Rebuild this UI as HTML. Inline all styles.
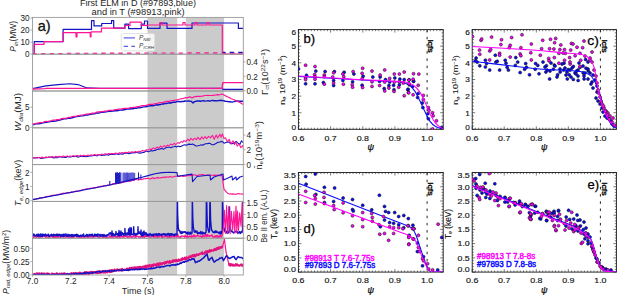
<!DOCTYPE html>
<html><head><meta charset="utf-8"><style>
html,body{margin:0;padding:0;background:#fff;width:617px;height:295px;overflow:hidden}
svg text{font-family:"Liberation Sans", sans-serif}
</style></head><body>
<svg width="617" height="295" viewBox="0 0 617 295" style="display:block;font-family:'Liberation Sans', sans-serif">
<rect width="617" height="295" fill="#fff"/>
<rect x="147.5" y="17.4" width="29.7" height="257.6" fill="#cbcbcb"/>
<rect x="185.8" y="17.4" width="38.3" height="257.6" fill="#cbcbcb"/>
<defs><clipPath id="cl"><rect x="32.5" y="17.4" width="210.8" height="257.6"/></clipPath></defs>
<g clip-path="url(#cl)">
<path d="M32.5,53.9 L60.0,53.6 L120.0,53.2 L222.0,53.0 L243.5,53.0" fill="none" stroke="#ff1493" stroke-width="1.4" stroke-linejoin="round" stroke-linecap="butt" stroke-dasharray="4.3,4.3"/>
<path d="M222.0,52.4 L243.5,52.4" fill="none" stroke="#1414c4" stroke-width="1.2" stroke-linejoin="round" stroke-linecap="butt" stroke-dasharray="4.3,4.3" stroke-dashoffset="1"/>
<path d="M32.5,54.1 L34.2,54.1 L34.2,41.6 L63.1,41.6 L63.1,29.4 L91.5,29.4 L91.5,20.7 L94.0,20.7 L94.0,25.9 L101.7,25.9 L101.7,23.5 L111.5,23.5 L111.5,20.7 L113.7,20.7 L113.7,28.2 L124.9,28.2 L124.9,24.1 L128.6,24.1 L128.6,28.6 L141.3,28.6 L141.3,24.1 L144.5,24.1 L144.5,21.0 L147.5,21.0 L147.5,28.4 L160.0,28.4 L160.0,23.2 L167.0,23.2 L167.0,28.4 L192.0,28.4 L192.0,23.0 L238.4,23.0 L238.4,28.4 L243.5,28.4 L243.5,28.4" fill="none" stroke="#1414c4" stroke-width="1.2" stroke-linejoin="round" stroke-linecap="butt" />
<path d="M32.5,54.1 L34.2,54.1 L34.2,44.3 L44.0,44.3 L44.0,41.6 L63.1,41.6 L63.1,32.7 L76.0,32.7 L76.0,36.8 L77.0,36.8 L77.0,32.7 L90.2,32.7 L90.2,36.8 L91.0,36.8 L91.0,31.9 L101.5,31.9 L101.5,28.2 L124.9,28.2 L124.9,25.5 L130.0,25.5 L130.0,22.2 L141.3,22.2 L141.3,25.3 L147.5,25.3 L147.5,25.0 L160.0,25.0 L160.0,22.5 L162.0,22.5 L162.0,25.0 L183.0,25.0 L183.0,22.5 L185.0,22.5 L185.0,25.0 L195.0,25.0 L195.0,22.5 L197.0,22.5 L197.0,25.0 L207.0,25.0 L207.0,22.5 L209.0,22.5 L209.0,25.0 L222.3,25.0 L222.3,54.2 L243.5,54.2 L243.5,54.2" fill="none" stroke="#ff1493" stroke-width="1.2" stroke-linejoin="round" stroke-linecap="butt" />
<path d="M32.5,88.6 L46.0,85.9 L58.0,84.6 L70.0,83.7 L78.0,84.6 L87.0,87.9 L100.0,88.3 L222.0,88.3 L223.0,89.4 L243.5,89.4" fill="none" stroke="#1414c4" stroke-width="1.1" stroke-linejoin="round" stroke-linecap="butt" />
<path d="M32.5,89.0 L45.0,88.6 L46.0,88.3 L222.0,88.3 L222.8,82.7 L243.5,82.7" fill="none" stroke="#ff1493" stroke-width="1.3" stroke-linejoin="round" stroke-linecap="butt" />
<path d="M32.5,124.9 L34.0,124.6 L35.6,123.8 L37.1,123.6 L38.6,123.8 L40.1,123.5 L41.7,123.2 L43.2,122.7 L44.7,122.6 L46.2,122.4 L47.8,122.1 L49.3,121.6 L50.8,121.5 L52.4,121.2 L53.9,121.2 L55.4,121.1 L56.9,120.8 L58.5,120.3 L60.0,120.0 L61.5,119.6 L63.1,119.1 L64.6,118.8 L66.2,118.8 L67.7,118.4 L69.2,118.2 L70.8,118.2 L72.3,117.7 L73.8,117.4 L75.4,116.9 L76.9,116.5 L78.5,116.4 L80.0,116.0 L81.5,115.9 L83.1,115.9 L84.6,115.4 L86.2,114.8 L87.7,115.0 L89.2,114.6 L90.8,114.3 L92.3,114.1 L93.8,113.7 L95.4,113.5 L96.9,112.9 L98.5,113.0 L100.0,112.7 L101.5,112.0 L103.0,112.2 L104.6,112.0 L106.1,111.7 L107.6,111.5 L109.1,111.3 L110.7,111.4 L112.2,111.0 L113.7,111.0 L115.2,110.5 L116.7,110.7 L118.3,110.5 L119.8,110.1 L121.3,109.9 L122.8,110.0 L124.3,109.7 L125.9,109.4 L127.4,109.0 L128.9,108.9 L130.4,109.0 L132.0,108.5 L133.5,108.7 L135.0,108.2 L136.5,108.3 L138.0,107.7 L139.5,107.9 L141.0,107.5 L142.5,107.1 L144.0,106.9 L145.5,106.8 L147.0,106.5 L148.5,106.1 L150.0,105.8 L151.5,105.8 L153.0,105.8 L154.5,105.4 L156.0,104.8 L157.5,105.0 L159.0,104.7 L160.5,104.6 L162.0,103.9 L163.5,104.0 L165.0,103.4 L166.5,103.5 L168.0,103.1 L169.5,102.8 L171.0,103.0 L172.5,102.3 L174.0,102.3 L175.5,102.2 L177.0,101.6 L178.6,101.5 L180.2,101.8 L181.9,101.5 L183.5,101.5 L185.1,101.0 L186.8,101.1 L188.4,100.9 L190.0,101.1 L191.5,101.5 L193.0,102.9 L194.5,101.6 L196.0,101.3 L197.5,100.9 L199.1,101.0 L200.6,101.3 L202.1,100.9 L203.6,100.8 L205.2,101.1 L206.7,100.9 L208.2,100.6 L209.8,101.2 L211.3,100.6 L212.8,100.5 L214.4,100.7 L215.9,100.8 L217.4,100.9 L218.9,100.4 L220.5,100.5 L222.0,100.3 L223.7,100.8 L225.3,101.2 L227.0,101.4 L228.7,101.7 L230.3,101.8 L232.0,102.1 L234.0,101.6 L236.0,101.0 L237.5,100.9 L239.0,101.3 L240.5,101.2 L242.0,101.2 L243.5,101.5" fill="none" stroke="#1414c4" stroke-width="1.4" stroke-linejoin="round" stroke-linecap="butt" />
<path d="M32.5,123.8 L34.0,123.9 L35.6,123.6 L37.1,123.1 L38.6,122.9 L40.1,122.6 L41.7,122.5 L43.2,122.3 L44.7,121.6 L46.2,121.3 L47.8,121.5 L49.3,121.0 L50.8,121.0 L52.4,120.2 L53.9,120.2 L55.4,120.1 L56.9,119.6 L58.5,119.7 L60.0,119.4 L61.5,118.6 L63.1,118.3 L64.6,118.4 L66.2,118.3 L67.7,117.7 L69.2,117.3 L70.8,117.1 L72.3,116.6 L73.8,116.4 L75.4,116.3 L76.9,116.0 L78.5,115.6 L80.0,115.3 L81.5,115.0 L83.1,114.8 L84.6,114.5 L86.2,114.0 L87.7,114.2 L89.2,113.8 L90.8,113.5 L92.3,113.0 L93.8,113.1 L95.4,112.8 L96.9,112.0 L98.5,111.9 L100.0,111.8 L101.5,111.6 L103.0,111.6 L104.6,111.1 L106.1,111.1 L107.6,110.8 L109.1,110.4 L110.7,110.4 L112.2,110.4 L113.7,110.1 L115.2,109.7 L116.7,109.6 L118.3,109.1 L119.8,109.0 L121.3,109.1 L122.8,108.7 L124.3,108.4 L125.9,108.4 L127.4,108.3 L128.9,108.1 L130.4,107.7 L132.0,107.6 L133.5,107.4 L135.0,107.4 L136.5,106.9 L138.0,106.6 L139.5,106.4 L141.0,105.8 L142.5,105.6 L144.0,105.7 L145.5,105.6 L147.0,105.1 L148.5,104.7 L150.0,104.3 L151.5,104.3 L153.0,104.3 L154.5,103.9 L156.0,103.5 L157.5,103.4 L159.0,102.8 L160.5,102.7 L162.0,102.7 L163.5,102.2 L165.0,101.8 L166.5,101.4 L168.0,101.3 L169.5,101.3 L171.0,100.5 L172.5,100.7 L174.0,100.4 L175.5,100.2 L177.0,99.8 L178.6,99.5 L180.2,99.0 L181.9,98.7 L183.5,98.3 L185.1,97.7 L186.8,97.9 L188.4,97.4 L190.0,96.8 L192.0,98.0 L194.0,96.8 L195.6,96.6 L197.1,96.4 L198.7,96.4 L200.2,96.3 L201.8,96.2 L203.3,95.9 L204.9,95.5 L206.4,95.5 L208.0,95.4 L209.6,95.5 L211.1,95.5 L212.7,95.3 L214.2,95.2 L215.8,95.0 L217.3,94.6 L218.9,94.8 L220.4,94.5 L222.0,94.0 L223.5,94.7 L225.1,95.5 L226.6,96.6 L228.1,97.0 L229.7,97.7 L231.2,98.7 L232.8,99.3 L234.3,99.8 L235.8,100.6 L237.4,101.5 L238.9,102.0 L240.4,102.8 L242.0,103.8 L243.5,104.4" fill="none" stroke="#ff1493" stroke-width="1.2" stroke-linejoin="round" stroke-linecap="butt" />
<path d="M32.5,157.9 L33.9,157.7 L35.3,158.0 L36.7,157.6 L38.1,157.5 L39.5,157.8 L40.9,158.4 L42.3,158.2 L43.7,158.1 L45.1,157.4 L46.5,157.7 L47.9,157.3 L49.3,157.2 L50.7,157.0 L52.1,157.1 L53.5,157.9 L54.9,157.7 L56.3,157.7 L57.7,157.6 L59.1,156.8 L60.5,156.9 L62.0,157.2 L63.4,157.3 L64.8,157.4 L66.2,157.4 L67.6,156.4 L69.0,156.9 L70.4,157.0 L71.8,156.7 L73.2,156.3 L74.6,156.6 L76.0,156.0 L77.4,157.0 L78.8,156.9 L80.2,156.4 L81.6,156.1 L83.0,156.8 L84.4,156.3 L85.8,156.6 L87.2,156.5 L88.6,156.1 L90.0,155.9 L91.4,156.0 L92.9,155.7 L94.3,155.3 L95.7,155.4 L97.1,155.9 L98.6,154.9 L100.0,154.8 L101.4,155.4 L102.9,154.9 L104.3,155.1 L105.7,154.9 L107.1,154.6 L108.6,155.3 L110.0,154.3 L111.4,154.4 L112.9,154.1 L114.3,154.5 L115.7,154.0 L117.1,154.0 L118.6,154.4 L120.0,153.7 L121.4,153.9 L122.9,154.3 L124.3,153.2 L125.7,153.0 L127.1,153.1 L128.6,153.7 L130.0,153.4 L131.4,152.9 L132.9,152.9 L134.3,152.6 L135.7,152.8 L137.1,152.2 L138.6,152.9 L140.0,153.1 L141.4,152.9 L142.8,152.4 L144.2,152.4 L145.6,151.1 L147.0,151.2 L148.4,151.7 L149.9,151.3 L151.3,150.6 L152.7,151.0 L154.1,150.4 L155.5,150.4 L156.9,149.5 L158.3,149.1 L159.7,149.2 L161.1,148.6 L162.5,148.7 L163.9,149.1 L165.3,148.1 L166.7,147.5 L168.1,147.3 L169.6,147.2 L171.0,147.7 L172.4,147.0 L173.8,146.7 L175.2,146.2 L176.6,147.0 L178.0,146.1 L180.0,146.8 L181.7,146.0 L183.3,145.3 L185.0,144.8 L186.5,145.2 L188.0,144.4 L189.5,144.1 L191.0,144.5 L192.5,144.1 L194.0,144.8 L196.0,146.0 L198.0,145.8 L200.0,145.3 L201.4,144.7 L202.9,145.2 L204.3,144.3 L205.7,143.8 L207.1,143.8 L208.6,143.2 L210.0,143.4 L212.0,144.7 L213.5,144.7 L215.0,143.9 L216.4,143.2 L217.8,142.3 L219.2,142.2 L220.6,141.8 L222.0,141.4 L224.0,143.2 L226.0,142.4 L227.5,141.9 L229.0,142.2 L230.5,143.6 L232.0,143.6 L234.0,143.1 L236.0,141.4 L238.0,143.2 L240.0,144.2 L241.5,140.8 L243.5,143.0" fill="none" stroke="#1414c4" stroke-width="1.1" stroke-linejoin="round" stroke-linecap="butt" />
<path d="M32.5,157.5 L33.8,158.1 L35.7,157.4 L37.0,157.9 L39.0,157.2 L40.9,157.9 L42.2,157.0 L43.9,157.7 L46.1,156.9 L47.3,157.6 L48.9,156.8 L50.4,157.4 L52.6,156.6 L54.0,157.3 L55.8,156.3 L57.8,157.0 L59.2,156.2 L61.4,156.8 L63.3,156.0 L65.2,156.7 L67.2,155.9 L68.6,156.6 L70.0,155.9 L71.5,156.4 L73.1,155.6 L75.2,156.4 L77.3,155.4 L79.3,156.1 L80.7,155.3 L82.4,156.0 L83.7,155.3 L85.9,155.9 L87.8,155.1 L89.4,155.8 L91.2,154.7 L92.6,155.5 L94.6,154.6 L96.6,155.2 L97.9,154.4 L100.1,154.8 L101.5,154.1 L103.4,154.7 L105.1,153.8 L107.1,154.3 L108.6,153.5 L110.5,154.0 L111.8,153.4 L113.7,153.9 L115.9,152.9 L117.3,153.7 L119.5,152.7 L120.7,153.3 L122.2,152.6 L123.5,153.0 L125.5,152.3 L127.3,152.8 L128.7,151.9 L130.2,152.5 L131.9,151.7 L133.6,152.5 L135.2,151.4 L137.1,152.2 L139.0,151.1 L140.4,151.8 L142.4,150.4 L144.5,151.1 L146.3,149.7 L148.3,150.1 L150.0,148.9 L151.5,149.5 L153.2,147.9 L154.9,148.8 L156.9,147.1 L158.9,147.9 L160.7,146.1 L162.2,147.3 L164.2,145.6 L165.8,146.8 L167.4,145.0 L168.8,146.0 L170.7,144.1 L172.7,145.0 L174.1,143.2 L175.8,144.6 L177.9,142.5 L179.3,143.4 L181.0,141.5 L182.7,142.4 L183.9,140.5 L185.8,141.6 L187.9,139.1 L189.5,140.8 L191.0,138.3 L193.0,140.2 L194.5,138.2 L196.3,139.6 L197.9,137.4 L200.0,139.6 L201.8,136.7 L203.3,139.0 L205.1,136.5 L206.6,138.6 L208.6,136.3 L210.5,137.9 L212.6,135.4 L214.2,139.2 L216.2,135.0 L217.6,138.1 L219.8,134.3 L221.1,137.3 L222.3,133.9 L224.0,138.4 L225.4,137.8 L227.4,141.7 L229.1,139.3 L231.0,143.8 L233.0,140.8 L234.5,144.6 L235.8,141.9 L237.1,146.2 L239.2,144.0 L240.8,147.7 L242.9,145.3 L243.5,149.0" fill="none" stroke="#ff1493" stroke-width="1.05" stroke-linejoin="round" stroke-linecap="butt" />
<path d="M32.5,199.5 L33.7,199.4 L34.9,199.2 L36.1,199.2 L37.3,198.7 L38.6,198.7 L39.8,197.6 L41.0,197.8 L42.2,198.0 L43.4,197.5 L44.6,197.5 L45.8,196.5 L47.0,196.6 L48.2,196.2 L49.5,196.3 L50.7,196.1 L51.9,195.3 L53.1,195.2 L54.3,195.1 L55.5,195.5 L56.7,195.1 L57.9,194.3 L59.1,194.7 L60.4,193.8 L61.6,194.0 L62.8,193.3 L64.0,193.0 L65.2,193.6 L66.4,192.7 L67.6,192.5 L68.8,193.0 L70.0,192.7 L71.2,191.9 L72.5,192.3 L73.7,191.7 L74.9,191.6 L76.1,190.9 L77.3,191.4 L78.5,190.9 L79.7,191.0 L80.9,190.7 L82.1,189.8 L83.4,189.7 L84.6,189.3 L85.8,189.0 L87.0,188.7 L88.2,188.7 L89.4,188.8 L90.6,188.0 L91.8,188.4 L93.0,187.8 L94.3,187.6 L95.5,187.9 L96.7,187.3 L97.9,186.9 L99.1,186.8 L100.3,186.8 L101.5,186.0 L102.7,186.6 L103.9,185.5 L105.2,186.0 L106.4,185.8 L107.6,184.8 L108.8,185.3 L110.0,184.7 L111.2,184.6 L112.5,183.8 L113.8,183.6 L115.0,183.5 L116.2,184.0 L117.5,183.0 L118.8,183.3 L120.0,183.2 L121.2,183.0 L122.5,182.1 L123.8,181.9 L125.0,181.8 L126.2,181.8 L127.5,180.9 L128.8,181.3 L130.0,181.1 L131.2,180.9 L132.5,179.8 L133.8,180.5 L135.0,179.4 L136.2,179.5 L137.4,179.7 L138.6,179.9 L139.8,179.2 L141.0,179.7 L142.2,179.2 L143.4,178.9 L144.6,178.8 L145.8,178.6 L147.0,178.4 L148.2,178.3 L149.4,178.8 L150.6,179.0 L151.8,178.1 L153.0,177.8 L154.2,178.7 L155.4,178.1 L156.6,177.9 L157.8,177.6 L159.0,177.9 L160.2,178.0 L161.4,177.6 L162.6,177.4 L163.8,177.0 L165.0,177.7 L166.2,176.7 L167.4,177.1 L168.6,177.3 L169.8,176.5 L171.0,177.0 L172.2,177.1 L173.4,176.7 L174.6,176.8 L175.8,176.0 L177.0,176.2 L178.2,175.9 L179.4,176.5 L180.6,175.9 L181.8,175.9 L183.1,176.4 L184.3,176.2 L185.5,176.2 L186.7,175.6 L187.9,175.6 L189.1,175.7 L190.3,175.4 L191.5,175.1 L192.7,175.2 L193.9,174.8 L195.2,175.0 L196.4,175.5 L197.6,175.4 L198.8,175.0 L200.0,174.8 L201.2,174.7 L202.4,174.5 L203.7,174.7 L204.9,175.2 L206.1,175.3 L207.3,174.9 L208.6,175.3 L209.8,175.3 L211.0,175.3 L212.2,175.3 L213.4,175.4 L214.7,175.1 L215.9,175.4 L217.1,175.0 L218.3,175.3 L219.6,175.6 L220.8,175.6 L222.0,175.2 L224.0,189.1 L225.3,190.6 L226.7,192.3 L228.0,193.5 L229.3,194.0 L230.6,193.7 L231.9,194.1 L233.2,193.9 L234.5,194.2 L235.8,194.0 L237.0,194.1 L238.3,193.6 L239.6,193.9 L240.9,194.0 L242.2,194.1 L243.5,193.7" fill="none" stroke="#ff1493" stroke-width="1.1" stroke-linejoin="round" stroke-linecap="butt" />
<path d="M32.5,199.6 L110.0,185.0 L135.0,178.9 L142.0,177.2 L148.0,175.6 L155.0,173.8 L162.0,172.6 L170.0,172.3 L177.0,172.6 L177.6,176.3 L192.0,174.1 L192.6,181.6 L197.0,176.5 L210.0,175.0 L210.5,180.0 L214.0,177.0 L223.0,174.0 L223.5,180.0 L228.0,178.0 L232.0,176.0 L232.5,180.0 L236.0,177.0 L236.5,180.0 L240.0,177.0 L243.5,176.0" fill="none" stroke="#1414c4" stroke-width="1.1" stroke-linejoin="round" stroke-linecap="butt" />
<line x1="109.8" y1="185.0" x2="109.8" y2="181.0" stroke="#1414c4" stroke-width="1.1"/>
<line x1="115.6" y1="183.9" x2="115.6" y2="172.6" stroke="#1414c4" stroke-width="1.1"/>
<line x1="116.6" y1="183.8" x2="116.6" y2="172.5" stroke="#1414c4" stroke-width="1.1"/>
<line x1="117.6" y1="183.6" x2="117.6" y2="172.3" stroke="#1414c4" stroke-width="1.1"/>
<line x1="118.6" y1="183.4" x2="118.6" y2="172.9" stroke="#1414c4" stroke-width="1.1"/>
<line x1="119.6" y1="183.2" x2="119.6" y2="172.2" stroke="#1414c4" stroke-width="1.1"/>
<line x1="120.8" y1="183.0" x2="120.8" y2="172.6" stroke="#1414c4" stroke-width="1.1"/>
<line x1="123.0" y1="182.6" x2="123.0" y2="172.9" stroke="#1414c4" stroke-width="0.75"/>
<line x1="123.9" y1="182.4" x2="123.9" y2="172.4" stroke="#1414c4" stroke-width="0.75"/>
<line x1="124.8" y1="182.2" x2="124.8" y2="172.7" stroke="#1414c4" stroke-width="0.75"/>
<line x1="125.7" y1="182.0" x2="125.7" y2="172.8" stroke="#1414c4" stroke-width="0.75"/>
<line x1="126.6" y1="181.9" x2="126.6" y2="172.4" stroke="#1414c4" stroke-width="0.75"/>
<line x1="127.5" y1="181.7" x2="127.5" y2="172.6" stroke="#1414c4" stroke-width="0.75"/>
<line x1="128.4" y1="181.5" x2="128.4" y2="172.8" stroke="#1414c4" stroke-width="0.75"/>
<line x1="129.3" y1="181.4" x2="129.3" y2="172.7" stroke="#1414c4" stroke-width="0.75"/>
<line x1="130.2" y1="181.2" x2="130.2" y2="172.8" stroke="#1414c4" stroke-width="0.75"/>
<line x1="131.1" y1="181.0" x2="131.1" y2="172.5" stroke="#1414c4" stroke-width="0.75"/>
<line x1="132.0" y1="180.9" x2="132.0" y2="172.5" stroke="#1414c4" stroke-width="0.75"/>
<line x1="132.9" y1="180.7" x2="132.9" y2="172.5" stroke="#1414c4" stroke-width="0.75"/>
<line x1="133.8" y1="180.5" x2="133.8" y2="172.7" stroke="#1414c4" stroke-width="0.75"/>
<line x1="134.7" y1="180.3" x2="134.7" y2="173.0" stroke="#1414c4" stroke-width="0.75"/>
<line x1="138.5" y1="179.6" x2="138.5" y2="172.4" stroke="#1414c4" stroke-width="1.0"/>
<line x1="140.9" y1="179.2" x2="140.9" y2="174.5" stroke="#1414c4" stroke-width="1.0"/>
<clipPath id="s6"><rect x="32.5" y="201.70000000000002" width="210.8" height="36.499999999999986"/></clipPath><g clip-path="url(#s6)">
<path d="M32.5,236.7 L33.0,236.9 L33.4,237.6 L33.9,236.7 L34.3,236.8 L34.8,237.0 L35.2,236.2 L35.7,236.8 L36.1,237.1 L36.6,237.4 L37.0,236.0 L37.5,236.4 L37.9,236.0 L38.4,237.4 L38.8,237.2 L39.3,235.9 L39.7,237.8 L40.2,237.7 L40.6,237.1 L41.1,237.0 L41.5,236.1 L42.0,235.8 L42.4,236.9 L42.9,235.9 L43.3,236.2 L43.8,236.3 L44.2,235.9 L44.7,236.7 L45.1,236.7 L45.6,237.5 L46.0,236.8 L46.5,237.1 L46.9,236.8 L47.4,237.1 L47.8,236.7 L48.3,236.4 L48.7,237.8 L49.2,237.8 L49.6,237.5 L50.1,237.2 L50.5,236.4 L51.0,236.3 L51.4,236.4 L51.9,235.9 L52.3,237.3 L52.8,236.6 L53.2,237.5 L53.7,236.6 L54.1,237.7 L54.6,237.5 L55.0,235.8 L55.5,236.2 L55.9,237.6 L56.4,236.7 L56.8,237.8 L57.3,236.6 L57.7,235.9 L58.2,237.1 L58.6,237.4 L59.1,236.3 L59.5,236.0 L60.0,236.5 L60.4,237.7 L60.9,237.3 L61.3,236.0 L61.8,236.3 L62.2,236.0 L62.7,235.9 L63.1,237.4 L63.6,236.2 L64.0,236.9 L64.5,236.7 L64.9,236.2 L65.4,237.3 L65.8,236.1 L66.3,237.1 L66.7,236.0 L67.2,236.6 L67.6,236.2 L68.1,236.3 L68.5,237.7 L69.0,237.4 L69.4,236.4 L69.9,237.6 L70.3,236.2 L70.8,236.6 L71.2,237.5 L71.7,237.1 L72.1,236.0 L72.6,237.8 L73.0,236.2 L73.5,236.3 L73.9,237.3 L74.4,236.5 L74.8,236.4 L75.3,235.9 L75.7,236.0 L76.2,237.0 L76.6,236.3 L77.1,237.0 L77.5,236.5 L78.0,236.7 L78.4,237.7 L78.9,236.8 L79.3,236.9 L79.8,237.5 L80.2,236.2 L80.7,236.1 L81.1,237.6 L81.6,237.4 L82.0,236.3 L82.5,236.2 L82.9,237.3 L83.4,237.7 L83.8,236.2 L84.3,237.7 L84.7,237.6 L85.2,237.0 L85.6,236.6 L86.1,236.0 L86.5,235.9 L87.0,237.7 L87.4,236.3 L87.9,237.2 L88.3,236.3 L88.8,237.4 L89.2,237.0 L89.7,236.4 L90.1,236.2 L90.6,237.2 L91.0,235.9 L91.5,236.3 L91.9,236.9 L92.4,237.5 L92.8,237.0 L93.3,236.4 L93.7,237.6 L94.2,236.2 L94.6,235.8 L95.1,236.3 L95.5,236.7 L96.0,235.9 L96.4,236.2 L96.9,236.5 L97.3,236.9 L97.8,236.1 L98.2,236.5 L98.7,237.6 L99.1,237.8 L99.6,237.1 L100.0,237.2 L100.5,237.0 L100.9,236.1 L101.4,235.9 L101.8,235.8 L102.3,237.6 L102.7,237.2 L103.2,237.7 L103.6,235.8 L104.1,237.1 L104.5,236.8 L105.0,237.3 L105.4,236.4 L105.9,237.8 L106.3,236.0 L106.8,236.9 L107.2,237.3 L107.7,237.6 L108.1,237.3 L108.6,237.2 L109.0,237.4 L109.5,236.4 L109.9,235.6 L110.4,236.3 L110.8,237.6 L111.3,236.9 L111.7,235.6 L112.2,237.4 L112.6,237.5 L113.1,236.9 L113.5,237.0 L114.0,236.6 L114.4,237.0 L114.9,236.1 L115.3,236.0 L115.8,237.1 L116.2,237.8 L116.7,236.1 L117.1,237.3 L117.6,236.6 L118.0,237.3 L118.5,235.8 L118.9,236.7 L119.4,237.5 L119.8,236.0 L120.3,237.3 L120.7,235.9 L121.2,237.0 L121.6,236.8 L122.1,236.3 L122.5,237.2 L123.0,236.5 L123.4,237.0 L123.9,237.6 L124.3,234.7 L124.8,234.1 L125.2,236.4 L125.7,236.0 L126.1,236.2 L126.6,236.1 L127.0,237.6 L127.5,236.9 L127.9,236.7 L128.4,237.6 L128.8,236.5 L129.3,237.1 L129.7,236.2 L130.2,236.7 L130.6,235.7 L131.1,237.6 L131.5,237.6 L132.0,236.6 L132.4,237.0 L132.9,236.1 L133.3,236.1 L133.8,235.4 L134.2,237.5 L134.7,237.5 L135.1,237.2 L135.6,237.7 L136.0,234.6 L136.5,236.1 L136.9,236.7 L137.4,236.4 L137.8,236.2 L138.3,236.6 L138.7,237.1 L139.2,236.8 L139.6,236.4 L140.1,237.5 L140.5,237.8 L141.0,236.6 L141.4,235.9 L141.9,235.9 L142.3,237.5 L142.8,235.9 L143.2,237.2 L143.7,236.9 L144.1,236.4 L144.6,237.4 L145.0,234.6 L145.5,236.1 L145.9,236.7 L146.4,235.8 L146.8,235.7 L147.3,236.3 L147.7,236.1 L148.2,235.9 L148.6,237.1 L149.1,236.7 L149.5,237.1 L150.0,237.1 L150.4,237.4 L150.9,237.0 L151.3,236.0 L151.8,235.3 L152.2,236.7 L152.6,236.1 L153.1,235.7 L153.5,236.7 L154.0,237.2 L154.4,236.1 L154.9,236.3 L155.3,235.1 L155.8,237.2 L156.2,236.8 L156.7,237.0 L157.1,237.3 L157.6,236.6 L158.0,237.4 L158.5,237.6 L158.9,235.8 L159.4,236.7 L159.8,235.0 L160.3,236.0 L160.7,234.7 L161.2,234.9 L161.6,237.6 L162.1,236.5 L162.5,236.9 L163.0,237.5 L163.4,237.3 L163.9,237.6 L164.3,234.6 L164.8,236.1 L165.2,236.1 L165.7,235.0 L166.1,235.4 L166.6,237.0 L167.0,237.2 L167.5,236.2 L167.9,237.5 L168.4,237.7 L168.8,237.7 L169.3,235.1 L169.7,237.3 L170.2,236.4 L170.6,237.5 L171.1,237.4 L171.5,236.4 L172.0,235.9 L172.4,236.6 L172.9,236.0 L173.3,237.2 L173.8,236.7 L174.2,235.8 L174.7,237.3 L175.1,235.8 L175.6,235.6 L176.0,236.0 L176.5,236.4 L176.9,237.2 L177.4,236.0 L177.8,234.1 L178.3,236.7 L178.7,237.1 L179.2,237.4 L179.6,237.1 L180.1,236.8 L180.5,236.7 L181.0,237.6 L181.4,235.8 L181.9,236.1 L182.3,236.1 L182.8,236.2 L183.2,236.0 L183.7,236.5 L184.1,236.7 L184.6,237.3 L185.0,235.2 L185.5,236.3 L185.9,236.4 L186.4,237.3 L186.8,237.5 L187.3,235.5 L187.7,237.4 L188.2,237.6 L188.6,236.6 L189.1,236.8 L189.5,236.0 L190.0,236.7 L190.4,236.6 L190.9,236.8 L191.3,235.7 L191.8,237.6 L192.2,236.6 L192.7,236.4 L193.1,235.5 L193.6,236.8 L194.0,235.0 L194.5,236.9 L194.9,235.8 L195.4,236.7 L195.8,236.4 L196.3,235.9 L196.7,236.2 L197.2,236.1 L197.6,234.7 L198.1,235.9 L198.5,235.6 L199.0,236.0 L199.4,236.3 L199.9,236.6 L200.3,236.2 L200.8,236.0 L201.2,236.8 L201.7,237.4 L202.1,235.9 L202.6,237.1 L203.0,235.0 L203.5,235.8 L203.9,236.0 L204.4,237.0 L204.8,236.2 L205.3,234.2 L205.7,234.7 L206.2,235.0 L206.6,237.0 L207.1,235.0 L207.5,234.5 L208.0,236.1 L208.4,236.0 L208.9,235.4 L209.3,235.5 L209.8,236.3 L210.2,235.7 L210.7,235.8 L211.1,235.9 L211.6,235.2 L212.0,234.7 L212.5,236.8 L212.9,236.6 L213.4,237.2 L213.8,236.8 L214.3,237.3 L214.7,236.0 L215.2,235.7 L215.6,237.2 L216.1,237.3 L216.5,236.2 L217.0,235.4 L217.4,237.4 L217.9,236.0 L218.3,237.5 L218.8,237.3 L219.2,235.8 L219.7,236.0 L220.1,237.0 L220.6,234.8 L221.0,235.7 L221.5,237.2 L221.9,236.4" fill="none" stroke="#ff1493" stroke-width="1.3" stroke-linejoin="round" stroke-linecap="butt" />
<path d="M32.5,235.2 L32.9,235.7 L33.2,235.7 L33.6,234.4 L33.9,234.0 L34.3,235.0 L34.6,234.7 L35.0,236.1 L35.3,235.8 L35.7,235.6 L36.0,235.5 L36.4,235.7 L36.7,234.4 L37.1,235.1 L37.4,234.4 L37.8,236.4 L38.1,234.2 L38.5,236.1 L38.8,234.2 L39.2,235.8 L39.5,234.9 L39.9,235.1 L40.2,236.2 L40.6,234.0 L40.9,234.2 L41.3,236.4 L41.6,235.3 L42.0,234.2 L42.3,236.6 L42.7,236.5 L43.0,234.3 L43.4,235.1 L43.7,234.4 L44.1,234.8 L44.4,235.6 L44.8,234.4 L45.1,235.8 L45.5,234.1 L45.8,234.4 L46.2,236.1 L46.5,235.0 L46.9,235.1 L47.2,235.5 L47.6,235.2 L47.9,235.0 L48.3,234.1 L48.6,235.9 L49.0,236.5 L49.3,236.5 L49.7,235.7 L50.0,234.9 L50.4,234.9 L50.7,235.8 L51.1,235.8 L51.4,234.3 L51.8,234.6 L52.1,234.9 L52.5,235.3 L52.8,236.1 L53.2,235.3 L53.5,234.1 L53.9,236.1 L54.2,235.1 L54.6,235.3 L54.9,234.6 L55.3,235.1 L55.6,235.0 L56.0,236.0 L56.3,234.3 L56.7,235.4 L57.0,234.5 L57.4,235.8 L57.7,234.1 L58.1,234.7 L58.4,234.9 L58.8,235.7 L59.1,234.1 L59.5,235.2 L59.8,234.5 L60.2,234.7 L60.5,235.2 L60.9,236.5 L61.2,235.3 L61.6,236.5 L61.9,234.4 L62.3,236.4 L62.6,234.9 L63.0,234.5 L63.3,235.9 L63.7,236.4 L64.0,234.0 L64.4,234.7 L64.7,236.0 L65.1,234.9 L65.4,234.6 L65.8,234.0 L66.1,234.1 L66.5,235.6 L66.8,236.6 L67.2,236.6 L67.5,235.3 L67.9,234.1 L68.2,234.8 L68.6,236.0 L68.9,236.2 L69.3,235.7 L69.6,234.6 L70.0,235.4 L70.3,235.2 L70.7,235.6 L71.0,234.7 L71.4,236.5 L71.7,236.3 L72.0,234.4 L72.4,234.8 L72.7,236.3 L73.1,234.7 L73.4,236.5 L73.8,235.3 L74.1,235.8 L74.5,235.8 L74.8,234.6 L75.2,234.7 L75.5,234.7 L75.9,235.8 L76.2,235.8 L76.6,234.3 L76.9,236.3 L77.3,235.1 L77.6,234.6 L78.0,235.1 L78.3,236.5 L78.7,235.5 L79.0,235.6 L79.4,236.4 L79.7,236.5 L80.1,236.0 L80.4,235.1 L80.8,235.5 L81.1,236.3 L81.5,236.1 L81.8,235.5 L82.2,234.9 L82.5,235.0 L82.9,235.9 L83.2,235.5 L83.6,234.0 L83.9,235.8 L84.3,236.3 L84.6,236.1 L85.0,236.3 L85.3,236.4 L85.7,235.4 L86.0,236.1 L86.4,235.0 L86.7,234.3 L87.1,234.9 L87.4,234.8 L87.8,236.4 L88.1,235.8 L88.5,235.4 L88.8,235.6 L89.2,234.3 L89.5,235.4 L89.9,235.8 L90.2,235.0 L90.6,234.6 L90.9,235.1 L91.3,234.8 L91.6,235.8 L92.0,234.4 L92.3,234.2 L92.7,234.8 L93.0,235.8 L93.4,236.0 L93.7,235.7 L94.1,236.4 L94.4,235.0 L94.8,234.1 L95.1,235.3 L95.5,235.2 L95.8,234.5 L96.2,235.7 L96.5,234.9 L96.9,234.6 L97.2,234.9 L97.6,236.5 L97.9,234.0 L98.3,234.9 L98.6,234.7 L99.0,234.5 L99.3,235.1 L99.7,234.6 L100.0,236.4 L100.4,235.3 L100.7,235.8 L101.1,234.4 L101.4,235.2 L101.8,235.6 L102.1,236.2 L102.5,234.6 L102.8,235.2 L103.2,236.2 L103.5,236.1 L103.9,234.5 L104.2,235.3 L104.6,235.9 L104.9,235.0 L105.3,235.7 L105.6,235.7 L106.0,236.5 L106.3,235.4 L106.7,235.7 L107.0,234.8 L107.4,235.8 L107.7,234.7 L108.1,235.2 L108.4,234.8 L108.8,234.7 L109.1,233.1 L109.5,233.1 L109.8,233.9 L110.2,232.8 L110.5,232.7 L110.9,234.3 L111.2,234.6 L111.6,235.5 L111.9,233.7 L112.0,231.0 L112.3,233.7 L112.6,234.5 L113.0,236.0 L113.3,233.8 L113.7,233.7 L114.0,234.5 L114.4,235.0 L114.7,235.4 L115.1,235.5 L115.4,234.4 L115.8,233.8 L116.0,231.5 L116.1,233.1 L116.5,234.6 L116.8,233.4 L117.2,234.5 L117.5,233.7 L117.9,235.7 L118.2,234.2 L118.6,232.7 L118.9,234.1 L119.0,230.5 L119.3,235.9 L119.6,233.4 L120.0,232.3 L120.3,235.4 L120.7,234.3 L121.0,231.0 L121.0,234.9 L121.4,233.5 L121.7,235.3 L122.1,232.8 L122.4,232.8 L122.8,234.2 L123.1,234.3 L123.5,233.7 L123.8,235.4 L124.2,233.5 L124.5,234.2 L124.9,233.6 L124.9,228.5 L125.2,233.6 L125.6,233.0 L125.9,235.5 L126.3,233.2 L126.6,233.6 L127.0,233.6 L127.3,233.0 L127.7,235.0 L128.0,234.7 L128.4,233.1 L128.6,229.0 L128.7,234.2 L129.1,234.9 L129.4,233.1 L129.8,235.0 L130.0,227.5 L130.1,234.0 L130.5,234.2 L130.8,234.9 L131.2,233.9 L131.5,228.0 L131.5,234.2 L131.9,234.2 L132.2,234.6 L132.6,234.6 L132.9,234.6 L133.3,233.7 L133.6,234.0 L133.7,226.7 L134.0,234.6 L134.3,233.2 L134.7,234.1 L135.0,234.8 L135.4,235.4 L135.7,234.4 L136.1,233.3 L136.4,234.4 L136.8,233.8 L137.1,234.1 L137.5,234.2 L137.8,233.8 L138.0,226.7 L138.2,232.0 L138.5,233.7 L138.9,233.1 L139.2,232.6 L139.6,231.9 L139.9,233.6 L140.3,232.1 L140.6,234.3 L141.0,234.5 L141.0,230.0 L141.3,235.4 L141.7,235.7 L142.0,235.3 L142.4,235.7 L142.7,232.3 L143.1,232.3 L143.4,235.6 L143.8,234.6 L144.0,231.0 L144.1,232.2 L144.5,234.5 L144.8,233.8 L145.2,234.4 L145.5,233.2 L145.9,232.6 L146.2,232.9 L146.6,234.3 L146.9,235.8 L147.3,234.3 L147.6,235.4 L148.0,235.0 L148.3,234.4 L148.7,234.2 L149.0,235.8 L149.4,235.0 L149.7,235.1 L150.1,233.4 L150.4,234.0 L150.8,234.6 L151.1,235.3 L151.5,235.5 L151.8,235.3 L152.2,234.3 L152.5,234.4 L152.9,235.6 L153.2,235.9 L153.6,234.6 L153.9,233.9 L154.3,235.0 L154.6,234.7 L155.0,234.3 L155.3,233.9 L155.7,234.3 L156.0,234.9 L156.4,233.7 L156.7,234.7 L157.1,235.8 L157.4,235.2 L157.8,234.0 L158.1,234.4 L158.5,233.6 L158.8,235.2 L159.2,234.9 L159.5,233.7 L159.9,234.7 L160.2,234.8 L160.6,234.8 L160.9,234.3 L161.3,234.1 L161.6,234.2 L162.0,235.8 L162.3,234.1 L162.7,234.6 L163.0,234.4 L163.4,233.7 L163.7,234.3 L164.1,233.8 L164.4,234.1 L164.8,234.2 L165.1,234.1 L165.5,235.7 L165.8,234.0 L166.2,234.1 L166.5,234.9 L166.9,234.2 L167.2,234.5 L167.6,234.9 L167.9,233.4 L168.3,234.9 L168.6,233.4 L169.0,233.8 L169.3,235.3 L169.7,235.7 L170.0,234.9 L170.4,233.6 L170.7,234.3 L171.1,233.9 L171.4,235.3 L171.8,233.7 L172.1,233.6 L172.5,234.8 L172.8,234.8 L173.2,234.7 L173.5,234.4 L173.9,235.6 L174.2,234.3 L174.6,235.5 L174.9,234.1 L175.3,234.3 L175.6,234.0 L176.0,234.9 L176.3,235.0 L176.7,233.7 L177.0,234.4 L177.3,200.8 L177.4,198.5 L177.7,215.3 L178.1,224.4 L178.4,228.3 L178.8,230.5 L179.1,230.6 L179.5,231.0 L179.8,230.5 L180.2,233.0 L180.5,232.8 L180.9,231.9 L181.2,233.5 L181.6,233.4 L181.9,231.5 L182.3,233.4 L182.6,232.3 L183.0,232.1 L183.3,232.0 L183.7,232.5 L184.0,231.6 L184.4,231.6 L184.7,231.8 L185.1,232.3 L185.4,231.9 L185.8,231.9 L186.1,233.7 L186.5,232.6 L186.8,232.9 L187.2,233.2 L187.5,234.0 L187.9,232.0 L188.2,232.2 L188.6,233.9 L188.9,234.0 L189.3,234.1 L189.6,233.0 L190.0,232.6 L190.3,232.1 L190.7,234.0 L191.0,233.6 L191.4,233.1 L191.7,233.7 L192.1,232.3 L192.3,200.8 L192.4,200.2 L192.8,217.8 L193.1,223.5 L193.5,228.5 L193.8,229.1 L194.2,231.7 L194.5,232.2 L194.9,232.0 L195.2,231.6 L195.6,230.7 L195.9,232.0 L196.3,231.8 L196.6,231.9 L197.0,231.2 L197.3,233.4 L197.7,232.4 L198.0,232.6 L198.4,233.4 L198.7,233.5 L199.1,232.7 L199.4,232.7 L199.8,233.5 L200.1,232.3 L200.5,233.7 L200.8,231.4 L201.2,233.5 L201.5,232.8 L201.9,233.0 L202.2,234.0 L202.6,232.0 L202.9,232.5 L203.3,233.5 L203.6,233.4 L204.0,232.8 L204.3,233.5 L204.7,233.2 L205.0,233.7 L205.4,233.2 L205.7,232.4 L206.1,232.2 L206.4,196.2 L206.6,201.8 L206.8,203.0 L207.1,217.3 L207.5,226.5 L207.8,227.5 L208.2,230.3 L208.5,229.8 L208.9,232.4 L209.2,231.6 L209.6,230.8 L209.9,198.1 L210.1,201.8 L210.3,204.9 L210.6,219.7 L211.0,224.5 L211.3,228.1 L211.7,230.4 L212.0,230.2 L212.4,231.3 L212.7,231.9 L213.1,232.3 L213.4,232.6 L213.8,232.5 L214.1,231.4 L214.5,232.7 L214.8,231.9 L215.2,231.3 L215.5,230.9 L215.9,232.5 L216.2,231.9 L216.6,231.2 L216.9,232.3 L217.3,232.1 L217.6,231.9 L218.0,232.6 L218.3,232.5 L218.7,232.5 L219.0,233.7 L219.4,233.5 L219.7,232.0 L220.1,233.5 L220.4,232.0 L220.8,233.7 L221.1,231.4 L221.5,232.1 L221.8,233.7 L222.2,233.0 L222.5,196.7 L222.6,200.8 L222.9,207.7 L223.2,219.5 L223.6,227.3 L223.9,227.6 L224.3,229.2 L224.6,230.5 L225.0,231.9 L225.3,231.8 L225.7,232.8 L226.0,232.3 L226.4,231.5 L226.7,232.9 L227.1,231.4 L227.4,230.8 L227.8,233.2 L228.1,233.0 L228.5,232.5 L228.8,232.1 L229.2,231.4 L229.4,209.8 L229.5,207.0 L229.9,218.9 L230.2,224.7 L230.6,228.5 L230.9,230.9 L231.3,231.7 L231.6,231.0 L232.0,231.6 L232.3,231.3 L232.7,232.2 L233.0,232.1 L233.4,232.9 L233.7,232.6 L234.1,232.3 L234.4,232.1 L234.8,231.1 L235.1,231.9 L235.5,231.9 L235.8,231.2 L236.2,231.3 L236.5,231.9 L236.9,231.3 L237.2,232.5 L237.6,231.8 L237.9,233.5 L238.3,232.7 L238.6,232.3 L239.0,232.1 L239.3,232.0 L239.7,231.5 L240.0,233.5 L240.4,233.4 L240.7,232.7 L241.1,232.7 L241.4,231.4 L241.8,232.4 L242.1,231.5 L242.5,231.9 L242.7,201.8 L242.8,200.6 L243.2,215.7" fill="none" stroke="#1414c4" stroke-width="1.4" stroke-linejoin="round" stroke-linecap="butt" />
<path d="M222.0,236.5 L223.5,227.6 L224.4,210.4 L225.6,233.1 L226.6,205.6 L227.7,232.8 L228.8,206.5 L230.1,233.8 L231.4,211.4 L232.7,229.9 L234.0,211.3 L234.8,233.3 L236.0,206.0 L236.8,232.5 L237.5,211.0 L238.5,230.5 L239.7,212.9 L241.0,226.1 L242.1,202.9 L243.4,233.2 L244.4,212.8" fill="none" stroke="#ff1493" stroke-width="1.1" stroke-linejoin="round" stroke-linecap="butt" />
</g>
<path d="M32.5,273.7 L32.9,274.8 L33.3,274.7 L33.7,274.3 L34.1,273.8 L34.5,275.0 L34.9,275.1 L35.3,274.4 L35.7,274.4 L36.1,273.8 L36.5,273.3 L36.9,274.1 L37.3,274.5 L37.7,273.4 L38.1,275.0 L38.5,273.8 L38.9,273.8 L39.3,273.3 L39.7,275.4 L40.1,274.9 L40.5,275.2 L40.9,274.6 L41.3,273.3 L41.7,274.0 L42.1,274.3 L42.5,273.5 L42.9,275.3 L43.3,274.0 L43.7,273.6 L44.1,275.0 L44.5,273.5 L44.9,275.2 L45.3,274.2 L45.7,274.4 L46.1,273.9 L46.5,274.3 L46.9,273.6 L47.3,273.3 L47.7,275.1 L48.1,273.7 L48.5,274.9 L48.9,273.6 L49.3,275.3 L49.7,275.1 L50.1,274.8 L50.5,274.8 L50.9,274.4 L51.3,274.8 L51.7,273.4 L52.1,274.2 L52.5,275.0 L52.9,273.6 L53.3,275.2 L53.7,275.1 L54.1,274.0 L54.5,273.9 L54.9,274.1 L55.3,274.0 L55.7,275.3 L56.1,274.0 L56.5,273.2 L56.9,273.3 L57.3,274.7 L57.7,275.3 L58.1,274.2 L58.5,274.2 L58.9,274.3 L59.3,274.7 L59.7,273.6 L60.1,274.4 L60.5,274.3 L60.9,274.4 L61.3,273.5 L61.7,273.4 L62.1,273.8 L62.5,275.1 L62.9,273.8 L63.3,274.4 L63.7,273.7 L64.1,273.3 L64.5,273.2 L64.9,274.8 L65.3,274.7 L65.7,273.9 L66.1,274.5 L66.5,274.5 L66.9,275.0 L67.3,275.1 L67.7,273.9 L68.1,275.2 L68.5,275.1 L68.9,274.3 L69.3,274.9 L69.7,274.1 L70.1,273.8 L70.5,273.5 L70.9,274.9 L71.3,273.3 L71.7,273.1 L72.1,274.6 L72.5,274.6 L72.9,273.9 L73.3,274.6 L73.7,272.9 L74.1,273.3 L74.5,273.4 L74.9,273.6 L75.3,273.1 L75.7,272.8 L76.1,273.4 L76.5,274.6 L76.9,274.7 L77.3,274.2 L77.7,273.6 L78.1,273.1 L78.5,274.6 L78.9,273.6 L79.3,274.0 L79.7,272.5 L80.1,272.9 L80.5,274.2 L80.9,274.1 L81.3,274.3 L81.7,273.6 L82.1,273.2 L82.5,273.5 L82.9,274.1 L83.3,272.9 L83.7,273.4 L84.1,272.8 L84.5,273.8 L84.9,272.1 L85.3,273.6 L85.7,274.2 L86.1,272.1 L86.5,273.3 L86.9,273.4 L87.3,273.8 L87.7,273.2 L88.1,272.5 L88.5,272.8 L88.9,274.0 L89.3,273.8 L89.7,272.1 L90.1,272.0 L90.5,272.0 L90.9,271.8 L91.3,272.7 L91.7,272.0 L92.1,273.6 L92.5,273.1 L92.9,271.9 L93.3,272.8 L93.7,272.3 L94.1,272.6 L94.5,272.0 L94.9,271.9 L95.3,271.9 L95.7,272.3 L96.1,273.0 L96.5,272.6 L96.9,271.5 L97.3,272.9 L97.7,273.3 L98.1,273.0 L98.5,273.0 L98.9,271.3 L99.3,272.3 L99.7,271.4 L100.1,272.9 L100.5,271.5 L100.9,272.7 L101.3,271.6 L101.7,272.5 L102.1,271.6 L102.5,271.0 L102.9,271.7 L103.3,271.5 L103.7,272.7 L104.1,271.4 L104.5,271.8 L104.9,271.8 L105.3,272.7 L105.7,270.7 L106.1,271.8 L106.5,271.5 L106.9,272.0 L107.3,272.5 L107.7,271.0 L108.1,271.8 L108.5,271.3 L108.9,271.4 L109.3,270.2 L109.7,271.8 L110.1,272.1 L110.5,270.7 L110.9,270.6 L111.3,272.0 L111.7,270.0 L112.1,269.9 L112.5,269.9 L112.9,271.4 L113.3,271.3 L113.7,270.5 L114.1,270.9 L114.5,269.5 L114.9,270.8 L115.3,270.3 L115.7,270.5 L116.1,270.1 L116.5,270.1 L116.9,269.7 L117.3,269.2 L117.7,270.0 L118.1,269.6 L118.5,270.5 L118.9,270.7 L119.3,270.5 L119.7,269.8 L120.1,269.3 L120.5,269.6 L120.9,269.8 L121.3,270.0 L121.7,270.7 L122.1,268.7 L122.5,269.6 L122.9,269.5 L123.3,270.0 L123.7,270.3 L124.1,270.0 L124.5,269.6 L124.9,269.9 L125.3,269.6 L125.7,270.0 L126.1,269.6 L126.5,269.5 L126.9,268.5 L127.3,269.9 L127.7,268.7 L128.1,269.2 L128.5,269.6 L128.9,269.9 L129.3,269.9 L129.7,267.7 L130.1,268.3 L130.5,268.2 L130.9,268.4 L131.3,267.8 L131.7,268.6 L132.1,267.5 L132.5,268.0 L132.9,269.3 L133.3,268.8 L133.7,268.2 L134.1,267.3 L134.5,269.2 L134.9,268.6 L135.3,267.4 L135.7,267.7 L136.1,268.3 L136.5,268.3 L136.9,267.3 L137.3,268.8 L137.7,267.4 L138.1,267.2 L138.5,268.4 L138.9,266.9 L139.3,268.0 L139.7,266.9 L140.1,267.7 L140.5,266.9 L140.9,267.1 L141.3,268.3 L141.7,267.2 L142.1,267.1 L142.5,267.4 L142.9,266.6 L143.3,266.4 L143.7,266.8 L144.1,266.5 L144.5,266.2 L144.9,267.9 L145.3,265.8 L145.7,267.5 L146.1,267.7 L146.5,267.1 L146.9,265.6 L147.3,266.6 L147.7,265.5 L148.1,266.7 L148.5,266.8 L148.9,265.7 L149.3,265.1 L149.7,266.2 L150.1,265.2 L150.5,265.6 L150.9,265.8 L151.3,266.7 L151.7,265.4 L152.1,264.8 L152.5,266.2 L152.9,266.2 L153.3,265.5 L153.7,264.3 L154.1,264.6 L154.5,264.9 L154.9,265.2 L155.3,264.4 L155.7,265.6 L156.1,265.6 L156.5,265.7 L156.9,265.5 L157.3,263.5 L157.7,264.7 L158.1,263.5 L158.5,265.2 L158.9,264.8 L159.3,264.7 L159.7,263.4 L160.1,263.0 L160.5,264.6 L160.9,264.1 L161.3,264.0 L161.7,263.6 L162.1,264.2 L162.5,263.1 L162.9,262.9 L163.3,263.0 L163.7,262.8 L164.1,263.4 L164.5,263.9 L164.9,262.1 L165.3,262.0 L165.7,262.9 L166.1,263.1 L166.5,262.0 L166.9,262.1 L167.3,261.5 L167.7,261.4 L168.1,262.3 L168.5,262.7 L168.9,262.5 L169.3,261.3 L169.7,261.1 L170.1,262.9 L170.5,261.9 L170.9,261.6 L171.3,262.1 L171.7,262.1 L172.1,261.6 L172.5,260.5 L172.9,262.1 L173.3,260.6 L173.7,260.2 L174.1,260.8 L174.5,261.1 L174.9,261.2 L175.3,260.1 L175.7,261.2 L176.1,260.7 L176.5,259.9 L176.9,261.3 L177.3,261.1 L177.7,261.2 L178.1,260.6 L178.5,259.5 L178.9,260.6 L179.3,260.8 L179.7,259.9 L180.1,260.6 L180.5,260.6 L180.9,259.2 L181.3,260.3 L181.7,260.2 L182.1,259.8 L182.5,258.0 L182.9,258.6 L183.3,259.1 L183.7,258.9 L184.1,259.2 L184.5,258.8 L184.9,257.6 L185.3,259.2 L185.7,258.3 L186.1,258.9 L186.5,257.3 L186.9,259.0 L187.3,257.9 L187.7,258.3 L188.1,258.1 L188.5,258.3 L188.9,257.0 L189.3,256.3 L189.7,256.9 L190.1,256.3 L190.5,257.0 L190.9,257.5 L191.3,256.4 L191.7,255.8 L192.1,255.4 L192.5,256.2 L192.9,256.4 L193.3,255.1 L193.7,256.3 L194.1,255.2 L194.5,254.9 L194.9,256.5 L195.3,255.5 L195.7,256.2 L196.1,255.3 L196.5,254.3 L196.9,254.4 L197.3,254.7 L197.7,255.0 L198.1,255.2 L198.5,255.0 L198.9,254.7 L199.3,253.7 L199.7,254.0 L200.1,253.7 L200.5,253.8 L200.9,253.2 L201.3,253.7 L201.7,253.4 L202.1,252.3 L202.5,254.0 L202.9,253.3 L203.3,253.7 L203.7,253.4 L204.1,253.3 L204.5,253.7 L204.9,252.2 L205.3,252.1 L205.7,251.2 L206.1,252.5 L206.5,252.2 L206.9,252.0 L207.3,252.9 L207.7,251.0 L208.1,250.9 L208.5,251.9 L208.9,251.9 L209.3,251.1 L209.7,250.0 L210.1,250.6 L210.5,251.5 L210.9,250.6 L211.3,250.4 L211.7,250.1 L212.1,250.6 L212.5,250.4 L212.9,250.4 L213.3,250.7 L213.7,250.3 L214.1,249.4 L214.5,249.0 L214.9,250.0 L215.3,249.9 L215.7,250.1 L216.1,248.4 L216.5,249.7 L216.9,249.6 L217.3,247.7 L217.7,248.1 L218.1,248.7 L218.5,247.5 L218.9,248.9 L219.3,247.5 L219.7,248.3 L220.1,247.3 L220.5,247.0 L220.9,246.9 L221.3,247.4 L221.7,247.8 L222.1,246.6 L222.5,247.6" fill="none" stroke="#e3127c" stroke-width="2.0" stroke-linejoin="round" stroke-linecap="butt" />
<path d="M222.5,246.7 L224.5,239.5 L226.0,252.0 L229.0,265.0 L231.0,265.0" fill="none" stroke="#ff1493" stroke-width="1.2" stroke-linejoin="round" stroke-linecap="butt" />
<path d="M229.0,265.9 L229.4,263.9 L229.8,263.7 L230.2,266.0 L230.6,264.0 L231.0,263.9 L231.4,265.2 L231.8,264.4 L232.2,265.7 L232.6,264.2 L233.0,265.9 L233.4,264.4 L233.8,265.0 L234.2,265.8 L234.6,265.2 L235.0,265.8 L235.4,265.3 L235.8,263.7 L236.2,265.7 L236.6,265.0 L237.0,264.3 L237.4,264.1 L237.8,265.6 L238.2,265.0 L238.6,265.9 L239.0,265.5 L239.4,265.9 L239.8,265.0 L240.2,265.3 L240.6,265.1 L241.0,264.2 L241.4,265.9 L241.8,264.3 L242.2,265.5 L242.6,265.9 L243.0,265.2 L243.4,263.9" fill="none" stroke="#e3127c" stroke-width="1.6" stroke-linejoin="round" stroke-linecap="butt" />
<path d="M32.5,275.3 L33.3,275.3 L34.1,275.3 L34.9,274.3 L35.8,274.9 L36.6,274.7 L37.4,274.8 L38.2,274.3 L39.0,274.4 L39.8,274.7 L40.7,274.4 L41.5,274.7 L42.3,274.2 L43.1,274.2 L43.9,275.0 L44.7,274.6 L45.5,274.7 L46.4,275.0 L47.2,274.5 L48.0,274.1 L48.8,275.0 L49.6,274.8 L50.4,274.8 L51.2,274.8 L52.1,275.2 L52.9,274.5 L53.7,274.9 L54.5,274.5 L55.3,274.7 L56.1,274.8 L57.0,274.4 L57.8,274.1 L58.6,274.6 L59.4,274.8 L60.2,274.7 L61.0,274.5 L61.8,274.7 L62.7,274.2 L63.5,274.2 L64.3,274.3 L65.1,274.9 L65.9,274.2 L66.7,274.1 L67.6,274.0 L68.4,274.0 L69.2,274.2 L70.0,274.6 L70.8,274.8 L71.6,274.1 L72.4,274.1 L73.2,273.9 L74.0,273.9 L74.8,274.4 L75.6,274.0 L76.5,273.6 L77.3,273.4 L78.1,274.1 L78.9,273.9 L79.7,274.0 L80.5,273.2 L81.3,273.5 L82.1,273.9 L82.9,273.4 L83.7,273.8 L84.5,272.8 L85.3,273.7 L86.1,272.5 L86.9,272.8 L87.7,272.3 L88.5,273.2 L89.4,272.9 L90.2,273.2 L91.0,272.9 L91.8,273.0 L92.6,272.5 L93.4,272.9 L94.2,272.6 L95.0,272.0 L95.8,272.7 L96.7,271.9 L97.5,271.6 L98.3,271.4 L99.2,271.8 L100.0,271.4 L100.8,272.2 L101.7,272.1 L102.5,271.2 L103.3,270.9 L104.2,271.4 L105.0,270.9 L105.8,271.2 L106.7,271.5 L107.5,270.7 L108.3,270.9 L109.2,271.4 L110.0,270.7 L110.8,270.6 L111.6,271.2 L112.4,271.1 L113.2,271.1 L114.0,270.8 L114.8,270.5 L115.6,270.8 L116.4,270.9 L117.2,270.6 L118.0,270.1 L118.8,270.1 L119.7,270.2 L120.5,270.6 L121.3,270.3 L122.1,270.3 L122.9,270.6 L123.7,269.7 L124.5,270.3 L125.3,269.9 L126.1,270.1 L126.9,270.4 L127.7,269.6 L128.5,270.4 L129.3,269.4 L130.1,269.9 L130.9,269.8 L131.7,269.4 L132.5,269.8 L133.3,269.6 L134.1,269.6 L134.9,269.8 L135.7,269.0 L136.5,269.4 L137.3,269.8 L138.2,269.0 L139.0,269.8 L139.8,269.0 L140.6,269.5 L141.4,268.9 L142.2,269.2 L143.0,269.1 L143.8,268.7 L144.6,269.4 L145.4,269.1 L146.2,269.3 L147.0,269.0 L147.8,268.9 L148.6,268.8 L149.4,268.4 L150.2,269.0 L151.1,267.9 L151.9,268.7 L152.7,268.6 L153.5,268.0 L154.3,268.2 L155.1,268.0 L155.9,267.8 L156.7,267.3 L157.5,267.2 L158.4,267.1 L159.2,266.9 L160.0,267.6 L160.8,266.7 L161.6,266.7 L162.4,266.6 L163.2,266.9 L164.0,266.4 L164.8,266.4 L165.6,265.9 L166.5,265.8 L167.3,265.5 L168.1,265.5 L168.9,265.4 L169.7,266.0 L170.5,265.5 L171.3,264.9 L172.1,265.2 L172.9,264.7 L173.8,265.1 L174.6,264.8 L175.4,265.2 L176.2,264.3 L177.0,264.9 L177.8,263.9 L178.7,264.5 L179.5,263.8 L180.3,262.8 L181.2,263.4 L182.0,262.5 L182.8,262.3 L183.7,261.7 L184.5,262.3 L185.3,261.1 L186.2,261.6 L187.0,260.9 L187.9,260.9 L188.8,260.1 L189.6,259.5 L190.5,260.1 L191.4,259.5 L192.2,258.6 L193.1,259.2 L194.0,258.8 L195.5,262.6 L196.4,261.9 L197.3,262.1 L198.2,261.1 L199.1,261.3 L200.0,260.5 L200.9,260.0 L201.8,259.1 L202.6,258.6 L203.5,257.9 L204.4,256.9 L205.2,256.1 L206.1,255.0 L207.0,254.1 L208.5,260.0 L209.4,260.2 L210.2,258.6 L211.1,258.2 L212.0,257.3 L213.0,259.9 L214.0,262.0 L214.8,261.9 L215.6,260.9 L216.4,260.3 L217.2,260.1 L218.0,259.7 L218.8,259.4 L219.6,258.1 L220.4,258.3 L221.2,257.9 L222.0,257.4 L223.5,260.6 L224.3,259.1 L225.2,257.9 L226.0,256.2 L226.8,255.8 L227.6,256.8 L228.4,257.7 L229.2,258.3 L230.0,258.5 L230.8,257.8 L231.6,257.6 L232.4,256.8 L233.2,256.7 L234.0,256.4 L235.0,258.4 L236.0,259.6 L237.0,258.1 L238.0,256.7 L238.9,257.0 L239.8,257.6 L240.8,257.5 L241.7,257.4 L242.6,258.4 L243.5,258.2" fill="none" stroke="#1414c4" stroke-width="1.5" stroke-linejoin="round" stroke-linecap="butt" />
</g>
<rect x="32.5" y="17.4" width="210.8" height="36.800000000000004" fill="none" stroke="#9a9a9a" stroke-width="0.9"/>
<rect x="32.5" y="54.2" width="210.8" height="36.8" fill="none" stroke="#9a9a9a" stroke-width="0.9"/>
<rect x="32.5" y="91.0" width="210.8" height="36.8" fill="none" stroke="#9a9a9a" stroke-width="0.9"/>
<rect x="32.5" y="127.8" width="210.8" height="36.8" fill="none" stroke="#9a9a9a" stroke-width="0.9"/>
<rect x="32.5" y="164.6" width="210.8" height="36.80000000000001" fill="none" stroke="#9a9a9a" stroke-width="0.9"/>
<rect x="32.5" y="201.4" width="210.8" height="36.79999999999998" fill="none" stroke="#9a9a9a" stroke-width="0.9"/>
<rect x="32.5" y="238.2" width="210.8" height="36.80000000000001" fill="none" stroke="#9a9a9a" stroke-width="0.9"/>
<rect x="121.2" y="33.5" width="33.6" height="17.4" rx="1.5" fill="#ffffff" fill-opacity="0.8" stroke="#d6d6d6" stroke-width="0.7"/>
<line x1="123.7" y1="37.9" x2="135" y2="37.9" stroke="#5c5ce6" stroke-width="1.2"/>
<line x1="123.7" y1="46.3" x2="135" y2="46.3" stroke="#5c5ce6" stroke-width="1.2" stroke-dasharray="4.3,3.3"/>
<text x="139" y="40.3" font-size="6.4" font-style="italic" fill="#333">P<tspan font-size="4.4" dy="0.9">NBI</tspan></text>
<text x="139" y="48.0" font-size="6.4" font-style="italic" fill="#333">P<tspan font-size="4.4" dy="0.9">ICRH</tspan></text>
<line x1="30.3" y1="54.1" x2="32.5" y2="54.1" stroke="#9a9a9a" stroke-width="0.8"/>
<text transform="translate(29.5,57.3) scale(0.9,1)" font-size="9.1" text-anchor="end" fill="#262626" stroke="#262626" stroke-width="0.04">0</text>
<line x1="30.3" y1="42.1" x2="32.5" y2="42.1" stroke="#9a9a9a" stroke-width="0.8"/>
<text transform="translate(29.5,45.3) scale(0.9,1)" font-size="9.1" text-anchor="end" fill="#262626" stroke="#262626" stroke-width="0.04">10</text>
<line x1="30.3" y1="30.1" x2="32.5" y2="30.1" stroke="#9a9a9a" stroke-width="0.8"/>
<text transform="translate(29.5,33.3) scale(0.9,1)" font-size="9.1" text-anchor="end" fill="#262626" stroke="#262626" stroke-width="0.04">20</text>
<line x1="30.3" y1="18.1" x2="32.5" y2="18.1" stroke="#9a9a9a" stroke-width="0.8"/>
<text transform="translate(29.5,21.3) scale(0.9,1)" font-size="9.1" text-anchor="end" fill="#262626" stroke="#262626" stroke-width="0.04">30</text>
<line x1="243.3" y1="90.7" x2="245.5" y2="90.7" stroke="#9a9a9a" stroke-width="0.8"/>
<text transform="translate(246.5,93.9) scale(0.9,1)" font-size="9.1" text-anchor="start" fill="#262626" stroke="#262626" stroke-width="0.04">0.0</text>
<line x1="243.3" y1="76.3" x2="245.5" y2="76.3" stroke="#9a9a9a" stroke-width="0.8"/>
<text transform="translate(246.5,79.5) scale(0.9,1)" font-size="9.1" text-anchor="start" fill="#262626" stroke="#262626" stroke-width="0.04">0.2</text>
<line x1="243.3" y1="61.9" x2="245.5" y2="61.9" stroke="#9a9a9a" stroke-width="0.8"/>
<text transform="translate(246.5,65.1) scale(0.9,1)" font-size="9.1" text-anchor="start" fill="#262626" stroke="#262626" stroke-width="0.04">0.4</text>
<line x1="30.3" y1="127.3" x2="32.5" y2="127.3" stroke="#9a9a9a" stroke-width="0.8"/>
<text transform="translate(29.5,130.5) scale(0.9,1)" font-size="9.1" text-anchor="end" fill="#262626" stroke="#262626" stroke-width="0.04">0</text>
<line x1="30.3" y1="107.2" x2="32.5" y2="107.2" stroke="#9a9a9a" stroke-width="0.8"/>
<text transform="translate(29.5,110.4) scale(0.9,1)" font-size="9.1" text-anchor="end" fill="#262626" stroke="#262626" stroke-width="0.04">5</text>
<line x1="243.3" y1="164.3" x2="245.5" y2="164.3" stroke="#9a9a9a" stroke-width="0.8"/>
<text transform="translate(246.5,167.5) scale(0.9,1)" font-size="9.1" text-anchor="start" fill="#262626" stroke="#262626" stroke-width="0.04">0</text>
<line x1="243.3" y1="149.7" x2="245.5" y2="149.7" stroke="#9a9a9a" stroke-width="0.8"/>
<text transform="translate(246.5,152.9) scale(0.9,1)" font-size="9.1" text-anchor="start" fill="#262626" stroke="#262626" stroke-width="0.04">2</text>
<line x1="243.3" y1="135.1" x2="245.5" y2="135.1" stroke="#9a9a9a" stroke-width="0.8"/>
<text transform="translate(246.5,138.3) scale(0.9,1)" font-size="9.1" text-anchor="start" fill="#262626" stroke="#262626" stroke-width="0.04">4</text>
<line x1="30.3" y1="200.7" x2="32.5" y2="200.7" stroke="#9a9a9a" stroke-width="0.8"/>
<text transform="translate(29.5,203.9) scale(0.9,1)" font-size="9.1" text-anchor="end" fill="#262626" stroke="#262626" stroke-width="0.04">0</text>
<line x1="30.3" y1="186.5" x2="32.5" y2="186.5" stroke="#9a9a9a" stroke-width="0.8"/>
<text transform="translate(29.5,189.7) scale(0.9,1)" font-size="9.1" text-anchor="end" fill="#262626" stroke="#262626" stroke-width="0.04">1</text>
<line x1="30.3" y1="172.3" x2="32.5" y2="172.3" stroke="#9a9a9a" stroke-width="0.8"/>
<text transform="translate(29.5,175.5) scale(0.9,1)" font-size="9.1" text-anchor="end" fill="#262626" stroke="#262626" stroke-width="0.04">2</text>
<line x1="243.3" y1="238.1" x2="245.5" y2="238.1" stroke="#9a9a9a" stroke-width="0.8"/>
<text transform="translate(246.5,241.3) scale(0.9,1)" font-size="9.1" text-anchor="start" fill="#262626" stroke="#262626" stroke-width="0.04">0.0</text>
<line x1="243.3" y1="226.3" x2="245.5" y2="226.3" stroke="#9a9a9a" stroke-width="0.8"/>
<text transform="translate(246.5,229.5) scale(0.9,1)" font-size="9.1" text-anchor="start" fill="#262626" stroke="#262626" stroke-width="0.04">0.5</text>
<line x1="243.3" y1="214.5" x2="245.5" y2="214.5" stroke="#9a9a9a" stroke-width="0.8"/>
<text transform="translate(246.5,217.7) scale(0.9,1)" font-size="9.1" text-anchor="start" fill="#262626" stroke="#262626" stroke-width="0.04">1.0</text>
<line x1="243.3" y1="202.7" x2="245.5" y2="202.7" stroke="#9a9a9a" stroke-width="0.8"/>
<text transform="translate(246.5,205.9) scale(0.9,1)" font-size="9.1" text-anchor="start" fill="#262626" stroke="#262626" stroke-width="0.04">1.5</text>
<line x1="30.3" y1="274.9" x2="32.5" y2="274.9" stroke="#9a9a9a" stroke-width="0.8"/>
<text transform="translate(29.5,278.1) scale(0.9,1)" font-size="9.1" text-anchor="end" fill="#262626" stroke="#262626" stroke-width="0.04">0.00</text>
<line x1="30.3" y1="261.6" x2="32.5" y2="261.6" stroke="#9a9a9a" stroke-width="0.8"/>
<text transform="translate(29.5,264.8) scale(0.9,1)" font-size="9.1" text-anchor="end" fill="#262626" stroke="#262626" stroke-width="0.04">0.25</text>
<line x1="30.3" y1="248.3" x2="32.5" y2="248.3" stroke="#9a9a9a" stroke-width="0.8"/>
<text transform="translate(29.5,251.5) scale(0.9,1)" font-size="9.1" text-anchor="end" fill="#262626" stroke="#262626" stroke-width="0.04">0.50</text>
<line x1="32.5" y1="275.0" x2="32.5" y2="277.0" stroke="#9a9a9a" stroke-width="0.8"/>
<text transform="translate(32.5,284.4) scale(0.9,1)" font-size="9.1" text-anchor="middle" fill="#262626" stroke="#262626" stroke-width="0.04">7.0</text>
<line x1="70.8" y1="275.0" x2="70.8" y2="277.0" stroke="#9a9a9a" stroke-width="0.8"/>
<text transform="translate(70.8,284.4) scale(0.9,1)" font-size="9.1" text-anchor="middle" fill="#262626" stroke="#262626" stroke-width="0.04">7.2</text>
<line x1="109.1" y1="275.0" x2="109.1" y2="277.0" stroke="#9a9a9a" stroke-width="0.8"/>
<text transform="translate(109.1,284.4) scale(0.9,1)" font-size="9.1" text-anchor="middle" fill="#262626" stroke="#262626" stroke-width="0.04">7.4</text>
<line x1="147.5" y1="275.0" x2="147.5" y2="277.0" stroke="#9a9a9a" stroke-width="0.8"/>
<text transform="translate(147.5,284.4) scale(0.9,1)" font-size="9.1" text-anchor="middle" fill="#262626" stroke="#262626" stroke-width="0.04">7.6</text>
<line x1="185.8" y1="275.0" x2="185.8" y2="277.0" stroke="#9a9a9a" stroke-width="0.8"/>
<text transform="translate(185.8,284.4) scale(0.9,1)" font-size="9.1" text-anchor="middle" fill="#262626" stroke="#262626" stroke-width="0.04">7.8</text>
<line x1="224.1" y1="275.0" x2="224.1" y2="277.0" stroke="#9a9a9a" stroke-width="0.8"/>
<text transform="translate(224.1,284.4) scale(0.9,1)" font-size="9.1" text-anchor="middle" fill="#262626" stroke="#262626" stroke-width="0.04">8.0</text>
<text x="138.2" y="293.6" font-size="9" text-anchor="middle" fill="#262626" font-weight="normal" >Time (s)</text>
<text x="138" y="5.8" font-size="9" text-anchor="middle" fill="#262626" font-weight="normal" textLength="116" lengthAdjust="spacingAndGlyphs">First ELM in D (#97893,blue)</text>
<text x="138" y="14.8" font-size="9" text-anchor="middle" fill="#262626" font-weight="normal" textLength="93" lengthAdjust="spacingAndGlyphs">and in T (#98913,pink)</text>
<text x="37.8" y="31.3" font-size="14.5" fill="#111" stroke="#111" stroke-width="0.3">a)</text>
<text transform="translate(16.3,36.3) rotate(-90)" font-size="8.5" text-anchor="middle" fill="#262626"><tspan font-style="italic">P</tspan><tspan font-size="5.8" dy="1.5" font-style="italic">in</tspan><tspan dy="-1.5">(MW)</tspan></text>
<text transform="translate(21.4,112.0) rotate(-90) scale(1.160,1)" font-size="8.5" text-anchor="middle" fill="#262626"><tspan font-style="italic">W</tspan><tspan font-size="5.8" dy="1.5" font-style="italic">dia</tspan><tspan dy="-1.5">(MJ)</tspan></text>
<text transform="translate(21.0,183.0) rotate(-90) scale(1.041,1)" font-size="8.5" text-anchor="middle" fill="#262626"><tspan font-style="italic">T</tspan><tspan font-size="5.8" dy="1.5" font-style="italic">e, edge</tspan><tspan dy="-1.5">(keV)</tspan></text>
<text transform="translate(8.8,262.0) rotate(-90) scale(1.010,1)" font-size="8.5" text-anchor="middle" fill="#262626"><tspan font-style="italic">P</tspan><tspan font-size="5.8" dy="1.5" font-style="italic">rad, edge</tspan><tspan dy="-1.5">(MW/m</tspan><tspan font-size="5.8" dy="-3">2</tspan><tspan dy="3">)</tspan></text>
<text transform="translate(267.7,72.0) rotate(-90) scale(1.108,1)" font-size="8.5" text-anchor="middle" fill="#262626">Γ<tspan font-size="5.8" dy="1.5">ct</tspan><tspan dy="-1.5">(10</tspan><tspan font-size="5.8" dy="-3">22</tspan><tspan dy="3">s</tspan><tspan font-size="5.8" dy="-3">−1</tspan><tspan dy="3">)</tspan></text>
<text transform="translate(261.6,145.4) rotate(-90) scale(1.130,1)" font-size="8.5" text-anchor="middle" fill="#262626">n̄<tspan font-size="5.8" dy="1.5">e</tspan><tspan dy="-1.5">(10</tspan><tspan font-size="5.8" dy="-3">19</tspan><tspan dy="3">m</tspan><tspan font-size="5.8" dy="-3">−3</tspan><tspan dy="3">)</tspan></text>
<text transform="translate(267.0,216.3) rotate(-90) scale(0.906,1)" font-size="8.5" text-anchor="middle" fill="#262626">Be II em. (A.U.)</text>
<defs><clipPath id="cb"><rect x="298.4" y="29.6" width="144.8" height="99.7"/></clipPath><clipPath id="cc"><rect x="472.2" y="29.6" width="144.2" height="99.7"/></clipPath><clipPath id="cd"><rect x="298.4" y="172.5" width="144.8" height="99.6"/></clipPath><clipPath id="ce"><rect x="472.2" y="172.5" width="144.2" height="99.6"/></clipPath></defs>
<path d="M298.4,129.3v-3 M298.4,29.6v3 M301.6,129.3v-1.6 M301.6,29.6v1.6 M304.8,129.3v-1.6 M304.8,29.6v1.6 M308.1,129.3v-1.6 M308.1,29.6v1.6 M311.3,129.3v-1.6 M311.3,29.6v1.6 M314.5,129.3v-1.6 M314.5,29.6v1.6 M317.7,129.3v-1.6 M317.7,29.6v1.6 M320.9,129.3v-1.6 M320.9,29.6v1.6 M324.1,129.3v-1.6 M324.1,29.6v1.6 M327.4,129.3v-1.6 M327.4,29.6v1.6 M330.6,129.3v-3 M330.6,29.6v3 M333.8,129.3v-1.6 M333.8,29.6v1.6 M337.0,129.3v-1.6 M337.0,29.6v1.6 M340.2,129.3v-1.6 M340.2,29.6v1.6 M343.4,129.3v-1.6 M343.4,29.6v1.6 M346.7,129.3v-1.6 M346.7,29.6v1.6 M349.9,129.3v-1.6 M349.9,29.6v1.6 M353.1,129.3v-1.6 M353.1,29.6v1.6 M356.3,129.3v-1.6 M356.3,29.6v1.6 M359.5,129.3v-1.6 M359.5,29.6v1.6 M362.8,129.3v-3 M362.8,29.6v3 M366.0,129.3v-1.6 M366.0,29.6v1.6 M369.2,129.3v-1.6 M369.2,29.6v1.6 M372.4,129.3v-1.6 M372.4,29.6v1.6 M375.6,129.3v-1.6 M375.6,29.6v1.6 M378.8,129.3v-1.6 M378.8,29.6v1.6 M382.1,129.3v-1.6 M382.1,29.6v1.6 M385.3,129.3v-1.6 M385.3,29.6v1.6 M388.5,129.3v-1.6 M388.5,29.6v1.6 M391.7,129.3v-1.6 M391.7,29.6v1.6 M394.9,129.3v-3 M394.9,29.6v3 M398.2,129.3v-1.6 M398.2,29.6v1.6 M401.4,129.3v-1.6 M401.4,29.6v1.6 M404.6,129.3v-1.6 M404.6,29.6v1.6 M407.8,129.3v-1.6 M407.8,29.6v1.6 M411.0,129.3v-1.6 M411.0,29.6v1.6 M414.2,129.3v-1.6 M414.2,29.6v1.6 M417.5,129.3v-1.6 M417.5,29.6v1.6 M420.7,129.3v-1.6 M420.7,29.6v1.6 M423.9,129.3v-1.6 M423.9,29.6v1.6 M427.1,129.3v-3 M427.1,29.6v3 M430.3,129.3v-1.6 M430.3,29.6v1.6 M433.5,129.3v-1.6 M433.5,29.6v1.6 M436.8,129.3v-1.6 M436.8,29.6v1.6 M440.0,129.3v-1.6 M440.0,29.6v1.6 M443.2,129.3v-1.6 M443.2,29.6v1.6 M298.4,129.3h3 M443.2,129.3h-3 M298.4,126.0h1.6 M443.2,126.0h-1.6 M298.4,122.7h1.6 M443.2,122.7h-1.6 M298.4,119.3h1.6 M443.2,119.3h-1.6 M298.4,116.0h1.6 M443.2,116.0h-1.6 M298.4,112.7h3 M443.2,112.7h-3 M298.4,109.4h1.6 M443.2,109.4h-1.6 M298.4,106.0h1.6 M443.2,106.0h-1.6 M298.4,102.7h1.6 M443.2,102.7h-1.6 M298.4,99.4h1.6 M443.2,99.4h-1.6 M298.4,96.1h3 M443.2,96.1h-3 M298.4,92.7h1.6 M443.2,92.7h-1.6 M298.4,89.4h1.6 M443.2,89.4h-1.6 M298.4,86.1h1.6 M443.2,86.1h-1.6 M298.4,82.8h1.6 M443.2,82.8h-1.6 M298.4,79.5h3 M443.2,79.5h-3 M298.4,76.1h1.6 M443.2,76.1h-1.6 M298.4,72.8h1.6 M443.2,72.8h-1.6 M298.4,69.5h1.6 M443.2,69.5h-1.6 M298.4,66.2h1.6 M443.2,66.2h-1.6 M298.4,62.8h3 M443.2,62.8h-3 M298.4,59.5h1.6 M443.2,59.5h-1.6 M298.4,56.2h1.6 M443.2,56.2h-1.6 M298.4,52.9h1.6 M443.2,52.9h-1.6 M298.4,49.5h1.6 M443.2,49.5h-1.6 M298.4,46.2h3 M443.2,46.2h-3 M298.4,42.9h1.6 M443.2,42.9h-1.6 M298.4,39.6h1.6 M443.2,39.6h-1.6 M298.4,36.2h1.6 M443.2,36.2h-1.6 M298.4,32.9h1.6 M443.2,32.9h-1.6 M298.4,29.6h3 M443.2,29.6h-3" stroke="#222" stroke-width="0.6" fill="none"/>
<rect x="298.4" y="29.6" width="144.8" height="99.7" fill="none" stroke="#1a1a1a" stroke-width="0.9"/>
<text x="296.0" y="129.6" font-size="7.6" font-weight="normal" stroke="#111" stroke-width="0.15" text-anchor="end" fill="#111" textLength="4.6" lengthAdjust="spacingAndGlyphs">0</text>
<text x="296.0" y="115.5" font-size="7.6" font-weight="normal" stroke="#111" stroke-width="0.15" text-anchor="end" fill="#111" textLength="4.6" lengthAdjust="spacingAndGlyphs">1</text>
<text x="296.0" y="98.9" font-size="7.6" font-weight="normal" stroke="#111" stroke-width="0.15" text-anchor="end" fill="#111" textLength="4.6" lengthAdjust="spacingAndGlyphs">2</text>
<text x="296.0" y="82.2" font-size="7.6" font-weight="normal" stroke="#111" stroke-width="0.15" text-anchor="end" fill="#111" textLength="4.6" lengthAdjust="spacingAndGlyphs">3</text>
<text x="296.0" y="65.6" font-size="7.6" font-weight="normal" stroke="#111" stroke-width="0.15" text-anchor="end" fill="#111" textLength="4.6" lengthAdjust="spacingAndGlyphs">4</text>
<text x="296.0" y="49.0" font-size="7.6" font-weight="normal" stroke="#111" stroke-width="0.15" text-anchor="end" fill="#111" textLength="4.6" lengthAdjust="spacingAndGlyphs">5</text>
<text x="296.0" y="35.2" font-size="7.6" font-weight="normal" stroke="#111" stroke-width="0.15" text-anchor="end" fill="#111" textLength="4.6" lengthAdjust="spacingAndGlyphs">6</text>
<text x="298.4" y="140.5" font-size="7.6" font-weight="normal" stroke="#111" stroke-width="0.15" text-anchor="middle" fill="#111" textLength="12.3" lengthAdjust="spacingAndGlyphs">0.6</text>
<text x="330.6" y="140.5" font-size="7.6" font-weight="normal" stroke="#111" stroke-width="0.15" text-anchor="middle" fill="#111" textLength="12.3" lengthAdjust="spacingAndGlyphs">0.7</text>
<text x="362.8" y="140.5" font-size="7.6" font-weight="normal" stroke="#111" stroke-width="0.15" text-anchor="middle" fill="#111" textLength="12.3" lengthAdjust="spacingAndGlyphs">0.8</text>
<text x="394.9" y="140.5" font-size="7.6" font-weight="normal" stroke="#111" stroke-width="0.15" text-anchor="middle" fill="#111" textLength="12.3" lengthAdjust="spacingAndGlyphs">0.9</text>
<text x="427.1" y="140.5" font-size="7.6" font-weight="normal" stroke="#111" stroke-width="0.15" text-anchor="middle" fill="#111" textLength="12.3" lengthAdjust="spacingAndGlyphs">1.0</text>
<text x="370.8" y="149.8" font-size="9" font-weight="normal" font-style="italic" text-anchor="middle" fill="#111" stroke="#111" stroke-width="0.25">ψ</text>
<line x1="427.1" y1="29.6" x2="427.1" y2="129.3" stroke="#222" stroke-width="1" stroke-dasharray="2.5,4.7"/>
<g clip-path="url(#cb)">
<circle cx="298.5" cy="68.9" r="1.5" fill="#0a0aff" stroke="#111" stroke-width="0.55"/>
<circle cx="306.5" cy="75.3" r="1.5" fill="#0a0aff" stroke="#111" stroke-width="0.55"/>
<circle cx="305.6" cy="83.8" r="1.5" fill="#0a0aff" stroke="#111" stroke-width="0.55"/>
<circle cx="315.8" cy="71.1" r="1.5" fill="#0a0aff" stroke="#111" stroke-width="0.55"/>
<circle cx="315.0" cy="83.8" r="1.5" fill="#0a0aff" stroke="#111" stroke-width="0.55"/>
<circle cx="325.1" cy="71.6" r="1.5" fill="#0a0aff" stroke="#111" stroke-width="0.55"/>
<circle cx="323.4" cy="82.5" r="1.5" fill="#0a0aff" stroke="#111" stroke-width="0.55"/>
<circle cx="334.4" cy="71.6" r="1.5" fill="#0a0aff" stroke="#111" stroke-width="0.55"/>
<circle cx="333.6" cy="80.4" r="1.5" fill="#0a0aff" stroke="#111" stroke-width="0.55"/>
<circle cx="333.6" cy="85.5" r="1.5" fill="#0a0aff" stroke="#111" stroke-width="0.55"/>
<circle cx="344.1" cy="72.3" r="1.5" fill="#0a0aff" stroke="#111" stroke-width="0.55"/>
<circle cx="342.9" cy="80.4" r="1.5" fill="#0a0aff" stroke="#111" stroke-width="0.55"/>
<circle cx="353.9" cy="74.0" r="1.5" fill="#0a0aff" stroke="#111" stroke-width="0.55"/>
<circle cx="352.6" cy="81.8" r="1.5" fill="#0a0aff" stroke="#111" stroke-width="0.55"/>
<circle cx="363.1" cy="76.2" r="1.5" fill="#0a0aff" stroke="#111" stroke-width="0.55"/>
<circle cx="362.1" cy="85.2" r="1.5" fill="#0a0aff" stroke="#111" stroke-width="0.55"/>
<circle cx="372.8" cy="77.0" r="1.5" fill="#0a0aff" stroke="#111" stroke-width="0.55"/>
<circle cx="380.1" cy="77.0" r="1.5" fill="#0a0aff" stroke="#111" stroke-width="0.55"/>
<circle cx="379.6" cy="81.3" r="1.5" fill="#0a0aff" stroke="#111" stroke-width="0.55"/>
<circle cx="385.5" cy="79.6" r="1.5" fill="#0a0aff" stroke="#111" stroke-width="0.55"/>
<circle cx="384.2" cy="88.6" r="1.5" fill="#0a0aff" stroke="#111" stroke-width="0.55"/>
<circle cx="389.7" cy="82.1" r="1.5" fill="#0a0aff" stroke="#111" stroke-width="0.55"/>
<circle cx="388.9" cy="85.5" r="1.5" fill="#0a0aff" stroke="#111" stroke-width="0.55"/>
<circle cx="394.8" cy="77.9" r="1.5" fill="#0a0aff" stroke="#111" stroke-width="0.55"/>
<circle cx="393.6" cy="85.2" r="1.5" fill="#0a0aff" stroke="#111" stroke-width="0.55"/>
<circle cx="394.0" cy="89.7" r="1.5" fill="#0a0aff" stroke="#111" stroke-width="0.55"/>
<circle cx="399.9" cy="79.1" r="1.5" fill="#0a0aff" stroke="#111" stroke-width="0.55"/>
<circle cx="399.4" cy="84.7" r="1.5" fill="#0a0aff" stroke="#111" stroke-width="0.55"/>
<circle cx="404.2" cy="79.6" r="1.5" fill="#0a0aff" stroke="#111" stroke-width="0.55"/>
<circle cx="407.9" cy="89.7" r="1.5" fill="#0a0aff" stroke="#111" stroke-width="0.55"/>
<circle cx="409.2" cy="84.7" r="1.5" fill="#0a0aff" stroke="#111" stroke-width="0.55"/>
<circle cx="413.5" cy="81.3" r="1.5" fill="#0a0aff" stroke="#111" stroke-width="0.55"/>
<circle cx="412.6" cy="86.4" r="1.5" fill="#0a0aff" stroke="#111" stroke-width="0.55"/>
<circle cx="409.1" cy="79.8" r="1.5" fill="#0a0aff" stroke="#111" stroke-width="0.55"/>
<circle cx="413.5" cy="81.2" r="1.5" fill="#0a0aff" stroke="#111" stroke-width="0.55"/>
<circle cx="408.1" cy="89.3" r="1.5" fill="#0a0aff" stroke="#111" stroke-width="0.55"/>
<circle cx="418.2" cy="93.4" r="1.5" fill="#0a0aff" stroke="#111" stroke-width="0.55"/>
<circle cx="417.6" cy="97.5" r="1.5" fill="#0a0aff" stroke="#111" stroke-width="0.55"/>
<circle cx="422.3" cy="103.0" r="1.5" fill="#0a0aff" stroke="#111" stroke-width="0.55"/>
<circle cx="422.9" cy="107.6" r="1.5" fill="#0a0aff" stroke="#111" stroke-width="0.55"/>
<circle cx="427.8" cy="113.7" r="1.5" fill="#0a0aff" stroke="#111" stroke-width="0.55"/>
<circle cx="428.4" cy="118.8" r="1.5" fill="#0a0aff" stroke="#111" stroke-width="0.55"/>
<circle cx="441.6" cy="127.4" r="1.5" fill="#0a0aff" stroke="#111" stroke-width="0.55"/>
<path d="M298.4,76.4 C308.3,77.0 341.1,78.9 358.0,79.8 C374.9,80.7 392.2,81.4 400.0,82.0 C407.8,82.6 403.3,82.6 405.0,83.2 C406.7,83.8 408.3,84.2 410.0,85.6 C411.7,87.0 413.3,88.8 415.0,91.4 C416.7,94.0 418.3,97.7 420.0,101.1 C421.7,104.5 423.3,108.4 425.0,111.8 C426.7,115.2 428.2,118.9 430.0,121.4 C431.8,123.9 433.7,125.5 436.0,126.8 C438.3,128.1 442.7,128.6 444.0,129.0" fill="none" stroke="#0a0aff" stroke-width="1.05" />
<circle cx="305.6" cy="65.2" r="1.5" fill="#ff00ff" stroke="#111" stroke-width="0.55"/>
<circle cx="305.6" cy="77.9" r="1.5" fill="#ff00ff" stroke="#111" stroke-width="0.55"/>
<circle cx="305.6" cy="79.6" r="1.5" fill="#ff00ff" stroke="#111" stroke-width="0.55"/>
<circle cx="315.0" cy="66.5" r="1.5" fill="#ff00ff" stroke="#111" stroke-width="0.55"/>
<circle cx="314.6" cy="74.5" r="1.5" fill="#ff00ff" stroke="#111" stroke-width="0.55"/>
<circle cx="315.0" cy="76.7" r="1.5" fill="#ff00ff" stroke="#111" stroke-width="0.55"/>
<circle cx="315.0" cy="79.2" r="1.5" fill="#ff00ff" stroke="#111" stroke-width="0.55"/>
<circle cx="324.3" cy="75.0" r="1.5" fill="#ff00ff" stroke="#111" stroke-width="0.55"/>
<circle cx="324.3" cy="76.7" r="1.5" fill="#ff00ff" stroke="#111" stroke-width="0.55"/>
<circle cx="324.3" cy="84.2" r="1.5" fill="#ff00ff" stroke="#111" stroke-width="0.55"/>
<circle cx="333.6" cy="72.8" r="1.5" fill="#ff00ff" stroke="#111" stroke-width="0.55"/>
<circle cx="332.7" cy="77.0" r="1.5" fill="#ff00ff" stroke="#111" stroke-width="0.55"/>
<circle cx="333.6" cy="83.0" r="1.5" fill="#ff00ff" stroke="#111" stroke-width="0.55"/>
<circle cx="342.9" cy="74.0" r="1.5" fill="#ff00ff" stroke="#111" stroke-width="0.55"/>
<circle cx="343.8" cy="76.7" r="1.5" fill="#ff00ff" stroke="#111" stroke-width="0.55"/>
<circle cx="343.4" cy="84.2" r="1.5" fill="#ff00ff" stroke="#111" stroke-width="0.55"/>
<circle cx="353.1" cy="71.6" r="1.5" fill="#ff00ff" stroke="#111" stroke-width="0.55"/>
<circle cx="352.2" cy="84.7" r="1.5" fill="#ff00ff" stroke="#111" stroke-width="0.55"/>
<circle cx="352.6" cy="87.2" r="1.5" fill="#ff00ff" stroke="#111" stroke-width="0.55"/>
<circle cx="362.6" cy="68.2" r="1.5" fill="#ff00ff" stroke="#111" stroke-width="0.55"/>
<circle cx="362.1" cy="73.3" r="1.5" fill="#ff00ff" stroke="#111" stroke-width="0.55"/>
<circle cx="362.1" cy="78.7" r="1.5" fill="#ff00ff" stroke="#111" stroke-width="0.55"/>
<circle cx="362.6" cy="87.5" r="1.5" fill="#ff00ff" stroke="#111" stroke-width="0.55"/>
<circle cx="372.0" cy="71.1" r="1.5" fill="#ff00ff" stroke="#111" stroke-width="0.55"/>
<circle cx="372.0" cy="81.8" r="1.5" fill="#ff00ff" stroke="#111" stroke-width="0.55"/>
<circle cx="372.0" cy="86.4" r="1.5" fill="#ff00ff" stroke="#111" stroke-width="0.55"/>
<circle cx="380.1" cy="75.0" r="1.5" fill="#ff00ff" stroke="#111" stroke-width="0.55"/>
<circle cx="379.6" cy="85.5" r="1.5" fill="#ff00ff" stroke="#111" stroke-width="0.55"/>
<circle cx="384.7" cy="69.9" r="1.5" fill="#ff00ff" stroke="#111" stroke-width="0.55"/>
<circle cx="384.7" cy="82.1" r="1.5" fill="#ff00ff" stroke="#111" stroke-width="0.55"/>
<circle cx="384.7" cy="90.9" r="1.5" fill="#ff00ff" stroke="#111" stroke-width="0.55"/>
<circle cx="389.7" cy="78.4" r="1.5" fill="#ff00ff" stroke="#111" stroke-width="0.55"/>
<circle cx="388.9" cy="88.1" r="1.5" fill="#ff00ff" stroke="#111" stroke-width="0.55"/>
<circle cx="394.3" cy="74.0" r="1.5" fill="#ff00ff" stroke="#111" stroke-width="0.55"/>
<circle cx="394.3" cy="82.1" r="1.5" fill="#ff00ff" stroke="#111" stroke-width="0.55"/>
<circle cx="394.0" cy="91.4" r="1.5" fill="#ff00ff" stroke="#111" stroke-width="0.55"/>
<circle cx="399.4" cy="74.0" r="1.5" fill="#ff00ff" stroke="#111" stroke-width="0.55"/>
<circle cx="399.4" cy="81.8" r="1.5" fill="#ff00ff" stroke="#111" stroke-width="0.55"/>
<circle cx="398.7" cy="87.2" r="1.5" fill="#ff00ff" stroke="#111" stroke-width="0.55"/>
<circle cx="404.2" cy="72.0" r="1.5" fill="#ff00ff" stroke="#111" stroke-width="0.55"/>
<circle cx="403.3" cy="83.0" r="1.5" fill="#ff00ff" stroke="#111" stroke-width="0.55"/>
<circle cx="404.2" cy="95.7" r="1.5" fill="#ff00ff" stroke="#111" stroke-width="0.55"/>
<circle cx="408.4" cy="92.6" r="1.5" fill="#ff00ff" stroke="#111" stroke-width="0.55"/>
<circle cx="408.9" cy="80.1" r="1.5" fill="#ff00ff" stroke="#111" stroke-width="0.55"/>
<circle cx="413.5" cy="73.7" r="1.5" fill="#ff00ff" stroke="#111" stroke-width="0.55"/>
<circle cx="418.8" cy="74.1" r="1.5" fill="#ff00ff" stroke="#111" stroke-width="0.55"/>
<circle cx="413.1" cy="79.2" r="1.5" fill="#ff00ff" stroke="#111" stroke-width="0.55"/>
<circle cx="409.1" cy="83.8" r="1.5" fill="#ff00ff" stroke="#111" stroke-width="0.55"/>
<circle cx="418.2" cy="85.3" r="1.5" fill="#ff00ff" stroke="#111" stroke-width="0.55"/>
<circle cx="408.7" cy="92.8" r="1.5" fill="#ff00ff" stroke="#111" stroke-width="0.55"/>
<circle cx="413.1" cy="94.8" r="1.5" fill="#ff00ff" stroke="#111" stroke-width="0.55"/>
<circle cx="423.3" cy="95.4" r="1.5" fill="#ff00ff" stroke="#111" stroke-width="0.55"/>
<circle cx="423.3" cy="99.5" r="1.5" fill="#ff00ff" stroke="#111" stroke-width="0.55"/>
<circle cx="428.4" cy="107.6" r="1.5" fill="#ff00ff" stroke="#111" stroke-width="0.55"/>
<circle cx="429.0" cy="110.3" r="1.5" fill="#ff00ff" stroke="#111" stroke-width="0.55"/>
<circle cx="432.5" cy="112.7" r="1.5" fill="#ff00ff" stroke="#111" stroke-width="0.55"/>
<circle cx="433.1" cy="115.8" r="1.5" fill="#ff00ff" stroke="#111" stroke-width="0.55"/>
<circle cx="436.5" cy="120.8" r="1.5" fill="#ff00ff" stroke="#111" stroke-width="0.55"/>
<circle cx="432.5" cy="129.0" r="1.5" fill="#ff00ff" stroke="#111" stroke-width="0.55"/>
<path d="M298.4,76.0 C305.0,76.4 328.1,77.6 338.0,78.2 C347.9,78.8 347.7,79.0 358.0,79.6 C368.3,80.2 391.3,80.9 400.0,81.6 C408.7,82.2 407.5,82.7 410.0,83.5 C412.5,84.3 413.3,85.0 415.0,86.5 C416.7,88.0 418.3,89.8 420.0,92.4 C421.7,95.0 423.3,98.5 425.0,102.0 C426.7,105.5 428.3,110.3 430.0,113.7 C431.7,117.1 433.3,120.2 435.0,122.4 C436.7,124.7 438.5,126.1 440.0,127.2 C441.5,128.3 443.3,128.7 444.0,129.0" fill="none" stroke="#ff00ff" stroke-width="1.05" />
</g>
<text x="303.4" y="42.6" font-size="12.8" fill="#000" stroke="#000" stroke-width="0.25" textLength="11.6" lengthAdjust="spacingAndGlyphs">b)</text>
<text transform="translate(428.2,39.7) rotate(90)" font-size="6.8" font-weight="normal" fill="#111" stroke="#111" stroke-width="0.4" textLength="13" lengthAdjust="spacingAndGlyphs">lcfs</text>
<path d="M472.2,129.3v-3 M472.2,29.6v3 M475.4,129.3v-1.6 M475.4,29.6v1.6 M478.6,129.3v-1.6 M478.6,29.6v1.6 M481.8,129.3v-1.6 M481.8,29.6v1.6 M485.0,129.3v-1.6 M485.0,29.6v1.6 M488.2,129.3v-1.6 M488.2,29.6v1.6 M491.4,129.3v-1.6 M491.4,29.6v1.6 M494.6,129.3v-1.6 M494.6,29.6v1.6 M497.8,129.3v-1.6 M497.8,29.6v1.6 M501.0,129.3v-1.6 M501.0,29.6v1.6 M504.2,129.3v-3 M504.2,29.6v3 M507.4,129.3v-1.6 M507.4,29.6v1.6 M510.7,129.3v-1.6 M510.7,29.6v1.6 M513.9,129.3v-1.6 M513.9,29.6v1.6 M517.1,129.3v-1.6 M517.1,29.6v1.6 M520.3,129.3v-1.6 M520.3,29.6v1.6 M523.5,129.3v-1.6 M523.5,29.6v1.6 M526.7,129.3v-1.6 M526.7,29.6v1.6 M529.9,129.3v-1.6 M529.9,29.6v1.6 M533.1,129.3v-1.6 M533.1,29.6v1.6 M536.3,129.3v-3 M536.3,29.6v3 M539.5,129.3v-1.6 M539.5,29.6v1.6 M542.7,129.3v-1.6 M542.7,29.6v1.6 M545.9,129.3v-1.6 M545.9,29.6v1.6 M549.1,129.3v-1.6 M549.1,29.6v1.6 M552.3,129.3v-1.6 M552.3,29.6v1.6 M555.5,129.3v-1.6 M555.5,29.6v1.6 M558.7,129.3v-1.6 M558.7,29.6v1.6 M561.9,129.3v-1.6 M561.9,29.6v1.6 M565.1,129.3v-1.6 M565.1,29.6v1.6 M568.3,129.3v-3 M568.3,29.6v3 M571.5,129.3v-1.6 M571.5,29.6v1.6 M574.7,129.3v-1.6 M574.7,29.6v1.6 M577.9,129.3v-1.6 M577.9,29.6v1.6 M581.2,129.3v-1.6 M581.2,29.6v1.6 M584.4,129.3v-1.6 M584.4,29.6v1.6 M587.6,129.3v-1.6 M587.6,29.6v1.6 M590.8,129.3v-1.6 M590.8,29.6v1.6 M594.0,129.3v-1.6 M594.0,29.6v1.6 M597.2,129.3v-1.6 M597.2,29.6v1.6 M600.4,129.3v-3 M600.4,29.6v3 M603.6,129.3v-1.6 M603.6,29.6v1.6 M606.8,129.3v-1.6 M606.8,29.6v1.6 M610.0,129.3v-1.6 M610.0,29.6v1.6 M613.2,129.3v-1.6 M613.2,29.6v1.6 M616.4,129.3v-1.6 M616.4,29.6v1.6 M472.2,129.3h3 M616.4,129.3h-3 M472.2,126.0h1.6 M616.4,126.0h-1.6 M472.2,122.7h1.6 M616.4,122.7h-1.6 M472.2,119.3h1.6 M616.4,119.3h-1.6 M472.2,116.0h1.6 M616.4,116.0h-1.6 M472.2,112.7h3 M616.4,112.7h-3 M472.2,109.4h1.6 M616.4,109.4h-1.6 M472.2,106.0h1.6 M616.4,106.0h-1.6 M472.2,102.7h1.6 M616.4,102.7h-1.6 M472.2,99.4h1.6 M616.4,99.4h-1.6 M472.2,96.1h3 M616.4,96.1h-3 M472.2,92.7h1.6 M616.4,92.7h-1.6 M472.2,89.4h1.6 M616.4,89.4h-1.6 M472.2,86.1h1.6 M616.4,86.1h-1.6 M472.2,82.8h1.6 M616.4,82.8h-1.6 M472.2,79.5h3 M616.4,79.5h-3 M472.2,76.1h1.6 M616.4,76.1h-1.6 M472.2,72.8h1.6 M616.4,72.8h-1.6 M472.2,69.5h1.6 M616.4,69.5h-1.6 M472.2,66.2h1.6 M616.4,66.2h-1.6 M472.2,62.8h3 M616.4,62.8h-3 M472.2,59.5h1.6 M616.4,59.5h-1.6 M472.2,56.2h1.6 M616.4,56.2h-1.6 M472.2,52.9h1.6 M616.4,52.9h-1.6 M472.2,49.5h1.6 M616.4,49.5h-1.6 M472.2,46.2h3 M616.4,46.2h-3 M472.2,42.9h1.6 M616.4,42.9h-1.6 M472.2,39.6h1.6 M616.4,39.6h-1.6 M472.2,36.2h1.6 M616.4,36.2h-1.6 M472.2,32.9h1.6 M616.4,32.9h-1.6 M472.2,29.6h3 M616.4,29.6h-3" stroke="#222" stroke-width="0.6" fill="none"/>
<rect x="472.2" y="29.6" width="144.2" height="99.7" fill="none" stroke="#1a1a1a" stroke-width="0.9"/>
<text x="469.8" y="129.6" font-size="7.6" font-weight="normal" stroke="#111" stroke-width="0.15" text-anchor="end" fill="#111" textLength="4.6" lengthAdjust="spacingAndGlyphs">0</text>
<text x="469.8" y="115.5" font-size="7.6" font-weight="normal" stroke="#111" stroke-width="0.15" text-anchor="end" fill="#111" textLength="4.6" lengthAdjust="spacingAndGlyphs">1</text>
<text x="469.8" y="98.9" font-size="7.6" font-weight="normal" stroke="#111" stroke-width="0.15" text-anchor="end" fill="#111" textLength="4.6" lengthAdjust="spacingAndGlyphs">2</text>
<text x="469.8" y="82.2" font-size="7.6" font-weight="normal" stroke="#111" stroke-width="0.15" text-anchor="end" fill="#111" textLength="4.6" lengthAdjust="spacingAndGlyphs">3</text>
<text x="469.8" y="65.6" font-size="7.6" font-weight="normal" stroke="#111" stroke-width="0.15" text-anchor="end" fill="#111" textLength="4.6" lengthAdjust="spacingAndGlyphs">4</text>
<text x="469.8" y="49.0" font-size="7.6" font-weight="normal" stroke="#111" stroke-width="0.15" text-anchor="end" fill="#111" textLength="4.6" lengthAdjust="spacingAndGlyphs">5</text>
<text x="469.8" y="35.2" font-size="7.6" font-weight="normal" stroke="#111" stroke-width="0.15" text-anchor="end" fill="#111" textLength="4.6" lengthAdjust="spacingAndGlyphs">6</text>
<text x="472.2" y="140.5" font-size="7.6" font-weight="normal" stroke="#111" stroke-width="0.15" text-anchor="middle" fill="#111" textLength="12.3" lengthAdjust="spacingAndGlyphs">0.6</text>
<text x="504.2" y="140.5" font-size="7.6" font-weight="normal" stroke="#111" stroke-width="0.15" text-anchor="middle" fill="#111" textLength="12.3" lengthAdjust="spacingAndGlyphs">0.7</text>
<text x="536.3" y="140.5" font-size="7.6" font-weight="normal" stroke="#111" stroke-width="0.15" text-anchor="middle" fill="#111" textLength="12.3" lengthAdjust="spacingAndGlyphs">0.8</text>
<text x="568.3" y="140.5" font-size="7.6" font-weight="normal" stroke="#111" stroke-width="0.15" text-anchor="middle" fill="#111" textLength="12.3" lengthAdjust="spacingAndGlyphs">0.9</text>
<text x="600.4" y="140.5" font-size="7.6" font-weight="normal" stroke="#111" stroke-width="0.15" text-anchor="middle" fill="#111" textLength="12.3" lengthAdjust="spacingAndGlyphs">1.0</text>
<text x="544.3" y="149.8" font-size="9" font-weight="normal" font-style="italic" text-anchor="middle" fill="#111" stroke="#111" stroke-width="0.25">ψ</text>
<line x1="600.4" y1="29.6" x2="600.4" y2="129.3" stroke="#222" stroke-width="1" stroke-dasharray="2.5,4.7"/>
<g clip-path="url(#cc)">
<circle cx="476.1" cy="58.0" r="1.5" fill="#0a0aff" stroke="#111" stroke-width="0.55"/>
<circle cx="475.4" cy="60.8" r="1.5" fill="#0a0aff" stroke="#111" stroke-width="0.55"/>
<circle cx="477.2" cy="62.1" r="1.5" fill="#0a0aff" stroke="#111" stroke-width="0.55"/>
<circle cx="479.8" cy="65.8" r="1.5" fill="#0a0aff" stroke="#111" stroke-width="0.55"/>
<circle cx="485.4" cy="60.2" r="1.5" fill="#0a0aff" stroke="#111" stroke-width="0.55"/>
<circle cx="486.6" cy="63.6" r="1.5" fill="#0a0aff" stroke="#111" stroke-width="0.55"/>
<circle cx="485.4" cy="66.9" r="1.5" fill="#0a0aff" stroke="#111" stroke-width="0.55"/>
<circle cx="489.7" cy="70.1" r="1.5" fill="#0a0aff" stroke="#111" stroke-width="0.55"/>
<circle cx="495.3" cy="55.2" r="1.5" fill="#0a0aff" stroke="#111" stroke-width="0.55"/>
<circle cx="495.9" cy="62.1" r="1.5" fill="#0a0aff" stroke="#111" stroke-width="0.55"/>
<circle cx="497.2" cy="61.3" r="1.5" fill="#0a0aff" stroke="#111" stroke-width="0.55"/>
<circle cx="499.6" cy="70.1" r="1.5" fill="#0a0aff" stroke="#111" stroke-width="0.55"/>
<circle cx="505.2" cy="60.2" r="1.5" fill="#0a0aff" stroke="#111" stroke-width="0.55"/>
<circle cx="506.0" cy="63.2" r="1.5" fill="#0a0aff" stroke="#111" stroke-width="0.55"/>
<circle cx="507.1" cy="67.3" r="1.5" fill="#0a0aff" stroke="#111" stroke-width="0.55"/>
<circle cx="508.4" cy="70.1" r="1.5" fill="#0a0aff" stroke="#111" stroke-width="0.55"/>
<circle cx="515.8" cy="57.6" r="1.5" fill="#0a0aff" stroke="#111" stroke-width="0.55"/>
<circle cx="517.7" cy="62.1" r="1.5" fill="#0a0aff" stroke="#111" stroke-width="0.55"/>
<circle cx="515.3" cy="65.4" r="1.5" fill="#0a0aff" stroke="#111" stroke-width="0.55"/>
<circle cx="520.1" cy="72.5" r="1.5" fill="#0a0aff" stroke="#111" stroke-width="0.55"/>
<circle cx="525.7" cy="63.6" r="1.5" fill="#0a0aff" stroke="#111" stroke-width="0.55"/>
<circle cx="526.5" cy="67.3" r="1.5" fill="#0a0aff" stroke="#111" stroke-width="0.55"/>
<circle cx="524.6" cy="69.2" r="1.5" fill="#0a0aff" stroke="#111" stroke-width="0.55"/>
<circle cx="529.5" cy="74.8" r="1.5" fill="#0a0aff" stroke="#111" stroke-width="0.55"/>
<circle cx="535.6" cy="63.6" r="1.5" fill="#0a0aff" stroke="#111" stroke-width="0.55"/>
<circle cx="537.8" cy="65.4" r="1.5" fill="#0a0aff" stroke="#111" stroke-width="0.55"/>
<circle cx="535.2" cy="69.2" r="1.5" fill="#0a0aff" stroke="#111" stroke-width="0.55"/>
<circle cx="539.0" cy="73.8" r="1.5" fill="#0a0aff" stroke="#111" stroke-width="0.55"/>
<circle cx="546.4" cy="65.8" r="1.5" fill="#0a0aff" stroke="#111" stroke-width="0.55"/>
<circle cx="547.2" cy="70.1" r="1.5" fill="#0a0aff" stroke="#111" stroke-width="0.55"/>
<circle cx="545.9" cy="72.0" r="1.5" fill="#0a0aff" stroke="#111" stroke-width="0.55"/>
<circle cx="554.3" cy="65.1" r="1.5" fill="#0a0aff" stroke="#111" stroke-width="0.55"/>
<circle cx="553.3" cy="69.2" r="1.5" fill="#0a0aff" stroke="#111" stroke-width="0.55"/>
<circle cx="557.6" cy="74.8" r="1.5" fill="#0a0aff" stroke="#111" stroke-width="0.55"/>
<circle cx="564.0" cy="63.2" r="1.5" fill="#0a0aff" stroke="#111" stroke-width="0.55"/>
<circle cx="563.6" cy="70.1" r="1.5" fill="#0a0aff" stroke="#111" stroke-width="0.55"/>
<circle cx="560.2" cy="72.0" r="1.5" fill="#0a0aff" stroke="#111" stroke-width="0.55"/>
<circle cx="568.2" cy="69.6" r="1.5" fill="#0a0aff" stroke="#111" stroke-width="0.55"/>
<circle cx="569.2" cy="74.8" r="1.5" fill="#0a0aff" stroke="#111" stroke-width="0.55"/>
<circle cx="573.3" cy="66.4" r="1.5" fill="#0a0aff" stroke="#111" stroke-width="0.55"/>
<circle cx="576.6" cy="71.0" r="1.5" fill="#0a0aff" stroke="#111" stroke-width="0.55"/>
<circle cx="580.0" cy="67.3" r="1.5" fill="#0a0aff" stroke="#111" stroke-width="0.55"/>
<circle cx="583.2" cy="72.9" r="1.5" fill="#0a0aff" stroke="#111" stroke-width="0.55"/>
<circle cx="549.6" cy="78.9" r="1.5" fill="#0a0aff" stroke="#111" stroke-width="0.55"/>
<circle cx="567.3" cy="78.9" r="1.5" fill="#0a0aff" stroke="#111" stroke-width="0.55"/>
<circle cx="573.3" cy="79.4" r="1.5" fill="#0a0aff" stroke="#111" stroke-width="0.55"/>
<circle cx="578.1" cy="80.4" r="1.5" fill="#0a0aff" stroke="#111" stroke-width="0.55"/>
<circle cx="584.1" cy="78.9" r="1.5" fill="#0a0aff" stroke="#111" stroke-width="0.55"/>
<circle cx="586.0" cy="68.2" r="1.5" fill="#0a0aff" stroke="#111" stroke-width="0.55"/>
<circle cx="588.2" cy="71.0" r="1.5" fill="#0a0aff" stroke="#111" stroke-width="0.55"/>
<circle cx="585.6" cy="59.5" r="1.5" fill="#0a0aff" stroke="#111" stroke-width="0.55"/>
<circle cx="565.0" cy="68.0" r="1.5" fill="#0a0aff" stroke="#111" stroke-width="0.55"/>
<circle cx="570.0" cy="70.0" r="1.5" fill="#0a0aff" stroke="#111" stroke-width="0.55"/>
<circle cx="575.0" cy="73.0" r="1.5" fill="#0a0aff" stroke="#111" stroke-width="0.55"/>
<circle cx="578.0" cy="76.0" r="1.5" fill="#0a0aff" stroke="#111" stroke-width="0.55"/>
<circle cx="585.0" cy="73.0" r="1.5" fill="#0a0aff" stroke="#111" stroke-width="0.55"/>
<circle cx="588.0" cy="79.0" r="1.5" fill="#0a0aff" stroke="#111" stroke-width="0.55"/>
<circle cx="592.0" cy="82.0" r="1.5" fill="#0a0aff" stroke="#111" stroke-width="0.55"/>
<circle cx="593.0" cy="88.0" r="1.5" fill="#0a0aff" stroke="#111" stroke-width="0.55"/>
<circle cx="597.0" cy="92.0" r="1.5" fill="#0a0aff" stroke="#111" stroke-width="0.55"/>
<circle cx="596.0" cy="98.0" r="1.5" fill="#0a0aff" stroke="#111" stroke-width="0.55"/>
<circle cx="598.0" cy="101.0" r="1.5" fill="#0a0aff" stroke="#111" stroke-width="0.55"/>
<circle cx="600.0" cy="104.0" r="1.5" fill="#0a0aff" stroke="#111" stroke-width="0.55"/>
<circle cx="602.0" cy="108.0" r="1.5" fill="#0a0aff" stroke="#111" stroke-width="0.55"/>
<circle cx="603.0" cy="112.0" r="1.5" fill="#0a0aff" stroke="#111" stroke-width="0.55"/>
<circle cx="605.0" cy="116.0" r="1.5" fill="#0a0aff" stroke="#111" stroke-width="0.55"/>
<circle cx="607.0" cy="118.0" r="1.5" fill="#0a0aff" stroke="#111" stroke-width="0.55"/>
<circle cx="609.0" cy="119.0" r="1.5" fill="#0a0aff" stroke="#111" stroke-width="0.55"/>
<circle cx="611.0" cy="121.0" r="1.5" fill="#0a0aff" stroke="#111" stroke-width="0.55"/>
<circle cx="612.0" cy="124.0" r="1.5" fill="#0a0aff" stroke="#111" stroke-width="0.55"/>
<circle cx="614.0" cy="126.0" r="1.5" fill="#0a0aff" stroke="#111" stroke-width="0.55"/>
<circle cx="545.0" cy="67.0" r="1.5" fill="#0a0aff" stroke="#111" stroke-width="0.55"/>
<circle cx="550.0" cy="71.0" r="1.5" fill="#0a0aff" stroke="#111" stroke-width="0.55"/>
<circle cx="555.0" cy="66.0" r="1.5" fill="#0a0aff" stroke="#111" stroke-width="0.55"/>
<circle cx="560.0" cy="69.0" r="1.5" fill="#0a0aff" stroke="#111" stroke-width="0.55"/>
<circle cx="567.0" cy="72.0" r="1.5" fill="#0a0aff" stroke="#111" stroke-width="0.55"/>
<circle cx="572.0" cy="68.0" r="1.5" fill="#0a0aff" stroke="#111" stroke-width="0.55"/>
<circle cx="578.0" cy="70.0" r="1.5" fill="#0a0aff" stroke="#111" stroke-width="0.55"/>
<circle cx="583.0" cy="66.0" r="1.5" fill="#0a0aff" stroke="#111" stroke-width="0.55"/>
<circle cx="588.0" cy="69.0" r="1.5" fill="#0a0aff" stroke="#111" stroke-width="0.55"/>
<circle cx="590.0" cy="73.0" r="1.5" fill="#0a0aff" stroke="#111" stroke-width="0.55"/>
<circle cx="593.0" cy="75.0" r="1.5" fill="#0a0aff" stroke="#111" stroke-width="0.55"/>
<circle cx="595.0" cy="80.0" r="1.5" fill="#0a0aff" stroke="#111" stroke-width="0.55"/>
<circle cx="591.0" cy="84.0" r="1.5" fill="#0a0aff" stroke="#111" stroke-width="0.55"/>
<circle cx="597.0" cy="86.0" r="1.5" fill="#0a0aff" stroke="#111" stroke-width="0.55"/>
<circle cx="588.0" cy="62.0" r="1.5" fill="#0a0aff" stroke="#111" stroke-width="0.55"/>
<circle cx="579.0" cy="63.0" r="1.5" fill="#0a0aff" stroke="#111" stroke-width="0.55"/>
<circle cx="562.0" cy="64.0" r="1.5" fill="#0a0aff" stroke="#111" stroke-width="0.55"/>
<circle cx="551.0" cy="63.0" r="1.5" fill="#0a0aff" stroke="#111" stroke-width="0.55"/>
<circle cx="543.0" cy="62.0" r="1.5" fill="#0a0aff" stroke="#111" stroke-width="0.55"/>
<circle cx="557.0" cy="77.0" r="1.5" fill="#0a0aff" stroke="#111" stroke-width="0.55"/>
<circle cx="571.0" cy="77.0" r="1.5" fill="#0a0aff" stroke="#111" stroke-width="0.55"/>
<circle cx="566.0" cy="75.0" r="1.5" fill="#0a0aff" stroke="#111" stroke-width="0.55"/>
<circle cx="576.0" cy="74.0" r="1.5" fill="#0a0aff" stroke="#111" stroke-width="0.55"/>
<circle cx="584.0" cy="76.0" r="1.5" fill="#0a0aff" stroke="#111" stroke-width="0.55"/>
<path d="M472.2,61.3 C482.2,62.4 517.4,66.8 532.0,68.2 C546.6,69.7 552.0,69.5 560.0,70.0 C568.0,70.5 575.7,71.0 580.0,71.5 C584.3,72.0 584.2,72.2 586.0,73.0 C587.8,73.8 589.5,74.5 591.0,76.0 C592.5,77.5 593.8,79.8 595.0,82.0 C596.2,84.2 597.0,86.3 598.0,89.0 C599.0,91.7 599.8,94.2 601.0,98.0 C602.2,101.8 603.7,108.2 605.0,112.0 C606.3,115.8 607.7,118.7 609.0,121.0 C610.3,123.3 611.7,124.8 613.0,126.0 C614.3,127.2 616.3,127.7 617.0,128.0" fill="none" stroke="#0a0aff" stroke-width="1.05" />
<circle cx="481.0" cy="40.3" r="1.5" fill="#ff00ff" stroke="#111" stroke-width="0.55"/>
<circle cx="481.7" cy="39.0" r="1.5" fill="#ff00ff" stroke="#111" stroke-width="0.55"/>
<circle cx="491.6" cy="37.1" r="1.5" fill="#ff00ff" stroke="#111" stroke-width="0.55"/>
<circle cx="501.5" cy="39.7" r="1.5" fill="#ff00ff" stroke="#111" stroke-width="0.55"/>
<circle cx="500.9" cy="44.6" r="1.5" fill="#ff00ff" stroke="#111" stroke-width="0.55"/>
<circle cx="511.6" cy="37.5" r="1.5" fill="#ff00ff" stroke="#111" stroke-width="0.55"/>
<circle cx="510.2" cy="45.3" r="1.5" fill="#ff00ff" stroke="#111" stroke-width="0.55"/>
<circle cx="509.3" cy="47.7" r="1.5" fill="#ff00ff" stroke="#111" stroke-width="0.55"/>
<circle cx="522.0" cy="34.7" r="1.5" fill="#ff00ff" stroke="#111" stroke-width="0.55"/>
<circle cx="520.9" cy="47.7" r="1.5" fill="#ff00ff" stroke="#111" stroke-width="0.55"/>
<circle cx="531.3" cy="44.0" r="1.5" fill="#ff00ff" stroke="#111" stroke-width="0.55"/>
<circle cx="479.5" cy="50.1" r="1.5" fill="#ff00ff" stroke="#111" stroke-width="0.55"/>
<circle cx="479.8" cy="54.3" r="1.5" fill="#ff00ff" stroke="#111" stroke-width="0.55"/>
<circle cx="489.7" cy="50.9" r="1.5" fill="#ff00ff" stroke="#111" stroke-width="0.55"/>
<circle cx="490.7" cy="49.6" r="1.5" fill="#ff00ff" stroke="#111" stroke-width="0.55"/>
<circle cx="499.6" cy="53.3" r="1.5" fill="#ff00ff" stroke="#111" stroke-width="0.55"/>
<circle cx="499.6" cy="55.2" r="1.5" fill="#ff00ff" stroke="#111" stroke-width="0.55"/>
<circle cx="489.7" cy="59.9" r="1.5" fill="#ff00ff" stroke="#111" stroke-width="0.55"/>
<circle cx="510.2" cy="57.1" r="1.5" fill="#ff00ff" stroke="#111" stroke-width="0.55"/>
<circle cx="520.1" cy="53.9" r="1.5" fill="#ff00ff" stroke="#111" stroke-width="0.55"/>
<circle cx="520.9" cy="55.7" r="1.5" fill="#ff00ff" stroke="#111" stroke-width="0.55"/>
<circle cx="530.8" cy="52.8" r="1.5" fill="#ff00ff" stroke="#111" stroke-width="0.55"/>
<circle cx="531.3" cy="59.9" r="1.5" fill="#ff00ff" stroke="#111" stroke-width="0.55"/>
<circle cx="472.5" cy="36.5" r="1.5" fill="#ff00ff" stroke="#111" stroke-width="0.55"/>
<circle cx="542.7" cy="40.3" r="1.5" fill="#ff00ff" stroke="#111" stroke-width="0.55"/>
<circle cx="550.5" cy="39.3" r="1.5" fill="#ff00ff" stroke="#111" stroke-width="0.55"/>
<circle cx="555.7" cy="38.4" r="1.5" fill="#ff00ff" stroke="#111" stroke-width="0.55"/>
<circle cx="554.6" cy="42.7" r="1.5" fill="#ff00ff" stroke="#111" stroke-width="0.55"/>
<circle cx="560.8" cy="44.9" r="1.5" fill="#ff00ff" stroke="#111" stroke-width="0.55"/>
<circle cx="571.4" cy="43.4" r="1.5" fill="#ff00ff" stroke="#111" stroke-width="0.55"/>
<circle cx="541.6" cy="48.7" r="1.5" fill="#ff00ff" stroke="#111" stroke-width="0.55"/>
<circle cx="549.6" cy="48.7" r="1.5" fill="#ff00ff" stroke="#111" stroke-width="0.55"/>
<circle cx="553.9" cy="49.0" r="1.5" fill="#ff00ff" stroke="#111" stroke-width="0.55"/>
<circle cx="559.9" cy="49.6" r="1.5" fill="#ff00ff" stroke="#111" stroke-width="0.55"/>
<circle cx="564.5" cy="49.6" r="1.5" fill="#ff00ff" stroke="#111" stroke-width="0.55"/>
<circle cx="570.7" cy="50.1" r="1.5" fill="#ff00ff" stroke="#111" stroke-width="0.55"/>
<circle cx="577.0" cy="47.2" r="1.5" fill="#ff00ff" stroke="#111" stroke-width="0.55"/>
<circle cx="582.6" cy="47.7" r="1.5" fill="#ff00ff" stroke="#111" stroke-width="0.55"/>
<circle cx="540.3" cy="55.2" r="1.5" fill="#ff00ff" stroke="#111" stroke-width="0.55"/>
<circle cx="548.7" cy="58.4" r="1.5" fill="#ff00ff" stroke="#111" stroke-width="0.55"/>
<circle cx="549.0" cy="60.8" r="1.5" fill="#ff00ff" stroke="#111" stroke-width="0.55"/>
<circle cx="554.3" cy="57.6" r="1.5" fill="#ff00ff" stroke="#111" stroke-width="0.55"/>
<circle cx="558.9" cy="53.3" r="1.5" fill="#ff00ff" stroke="#111" stroke-width="0.55"/>
<circle cx="565.4" cy="53.3" r="1.5" fill="#ff00ff" stroke="#111" stroke-width="0.55"/>
<circle cx="569.6" cy="57.6" r="1.5" fill="#ff00ff" stroke="#111" stroke-width="0.55"/>
<circle cx="575.1" cy="55.7" r="1.5" fill="#ff00ff" stroke="#111" stroke-width="0.55"/>
<circle cx="580.0" cy="53.3" r="1.5" fill="#ff00ff" stroke="#111" stroke-width="0.55"/>
<circle cx="558.9" cy="63.2" r="1.5" fill="#ff00ff" stroke="#111" stroke-width="0.55"/>
<circle cx="564.5" cy="60.2" r="1.5" fill="#ff00ff" stroke="#111" stroke-width="0.55"/>
<circle cx="570.1" cy="64.0" r="1.5" fill="#ff00ff" stroke="#111" stroke-width="0.55"/>
<circle cx="580.7" cy="60.2" r="1.5" fill="#ff00ff" stroke="#111" stroke-width="0.55"/>
<circle cx="580.0" cy="66.4" r="1.5" fill="#ff00ff" stroke="#111" stroke-width="0.55"/>
<circle cx="590.0" cy="60.0" r="1.5" fill="#ff00ff" stroke="#111" stroke-width="0.55"/>
<circle cx="592.0" cy="62.0" r="1.5" fill="#ff00ff" stroke="#111" stroke-width="0.55"/>
<circle cx="597.0" cy="83.0" r="1.5" fill="#ff00ff" stroke="#111" stroke-width="0.55"/>
<circle cx="598.0" cy="90.0" r="1.5" fill="#ff00ff" stroke="#111" stroke-width="0.55"/>
<circle cx="600.0" cy="97.0" r="1.5" fill="#ff00ff" stroke="#111" stroke-width="0.55"/>
<circle cx="602.0" cy="104.0" r="1.5" fill="#ff00ff" stroke="#111" stroke-width="0.55"/>
<circle cx="604.0" cy="108.0" r="1.5" fill="#ff00ff" stroke="#111" stroke-width="0.55"/>
<circle cx="606.0" cy="111.0" r="1.5" fill="#ff00ff" stroke="#111" stroke-width="0.55"/>
<circle cx="608.0" cy="113.0" r="1.5" fill="#ff00ff" stroke="#111" stroke-width="0.55"/>
<circle cx="610.0" cy="116.0" r="1.5" fill="#ff00ff" stroke="#111" stroke-width="0.55"/>
<circle cx="613.0" cy="118.0" r="1.5" fill="#ff00ff" stroke="#111" stroke-width="0.55"/>
<circle cx="573.0" cy="44.0" r="1.5" fill="#ff00ff" stroke="#111" stroke-width="0.55"/>
<circle cx="584.0" cy="41.0" r="1.5" fill="#ff00ff" stroke="#111" stroke-width="0.55"/>
<circle cx="592.0" cy="52.0" r="1.5" fill="#ff00ff" stroke="#111" stroke-width="0.55"/>
<circle cx="585.0" cy="56.0" r="1.5" fill="#ff00ff" stroke="#111" stroke-width="0.55"/>
<circle cx="590.0" cy="58.0" r="1.5" fill="#ff00ff" stroke="#111" stroke-width="0.55"/>
<circle cx="570.0" cy="62.0" r="1.5" fill="#ff00ff" stroke="#111" stroke-width="0.55"/>
<circle cx="563.0" cy="53.0" r="1.5" fill="#ff00ff" stroke="#111" stroke-width="0.55"/>
<circle cx="598.5" cy="93.0" r="1.5" fill="#ff00ff" stroke="#111" stroke-width="0.55"/>
<circle cx="601.0" cy="101.0" r="1.5" fill="#ff00ff" stroke="#111" stroke-width="0.55"/>
<circle cx="603.5" cy="106.0" r="1.5" fill="#ff00ff" stroke="#111" stroke-width="0.55"/>
<circle cx="605.5" cy="111.0" r="1.5" fill="#ff00ff" stroke="#111" stroke-width="0.55"/>
<circle cx="607.5" cy="115.0" r="1.5" fill="#ff00ff" stroke="#111" stroke-width="0.55"/>
<circle cx="609.5" cy="119.0" r="1.5" fill="#ff00ff" stroke="#111" stroke-width="0.55"/>
<circle cx="612.0" cy="122.0" r="1.5" fill="#ff00ff" stroke="#111" stroke-width="0.55"/>
<circle cx="614.5" cy="125.0" r="1.5" fill="#ff00ff" stroke="#111" stroke-width="0.55"/>
<circle cx="596.0" cy="76.0" r="1.5" fill="#ff00ff" stroke="#111" stroke-width="0.55"/>
<circle cx="594.0" cy="70.0" r="1.5" fill="#ff00ff" stroke="#111" stroke-width="0.55"/>
<path d="M472.2,46.4 C482.2,47.0 517.4,49.1 532.0,50.1 C546.6,51.1 552.0,51.8 560.0,52.5 C568.0,53.2 575.5,53.5 580.0,54.2 C584.5,54.9 585.2,55.4 587.0,56.5 C588.8,57.6 589.8,59.2 591.0,61.0 C592.2,62.8 593.1,63.8 594.0,67.0 C594.9,70.2 595.6,75.2 596.5,80.0 C597.4,84.8 598.5,91.7 599.5,96.0 C600.5,100.3 601.4,102.8 602.5,106.0 C603.6,109.2 604.6,112.2 606.0,115.0 C607.4,117.8 609.2,120.9 611.0,123.0 C612.8,125.1 616.0,126.8 617.0,127.5" fill="none" stroke="#ff00ff" stroke-width="1.05" />
</g>
<text x="587.3" y="45.3" font-size="12.8" fill="#000" stroke="#000" stroke-width="0.25" textLength="11.6" lengthAdjust="spacingAndGlyphs">c)</text>
<text transform="translate(602.0,39.7) rotate(90)" font-size="6.8" font-weight="normal" fill="#111" stroke="#111" stroke-width="0.4" textLength="13" lengthAdjust="spacingAndGlyphs">lcfs</text>
<text transform="translate(284.6,80.0) rotate(-90) scale(1.13,1)" font-size="8" text-anchor="middle" fill="#111" stroke="#111" stroke-width="0.05">n<tspan font-size="5" dy="1.5">e</tspan><tspan dy="-1.5"> 10</tspan><tspan font-size="5" dy="-2.5">19</tspan><tspan dy="2.5"> (m</tspan><tspan font-size="5" dy="-2.5">−3</tspan><tspan dy="2.5">)</tspan></text>
<text transform="translate(458.2,80.0) rotate(-90) scale(1.13,1)" font-size="8" text-anchor="middle" fill="#111" stroke="#111" stroke-width="0.05">n<tspan font-size="5" dy="1.5">e</tspan><tspan dy="-1.5"> 10</tspan><tspan font-size="5" dy="-2.5">19</tspan><tspan dy="2.5"> (m</tspan><tspan font-size="5" dy="-2.5">−3</tspan><tspan dy="2.5">)</tspan></text>
<path d="M298.4,272.1v-3 M298.4,172.5v3 M301.6,272.1v-1.6 M301.6,172.5v1.6 M304.8,272.1v-1.6 M304.8,172.5v1.6 M308.1,272.1v-1.6 M308.1,172.5v1.6 M311.3,272.1v-1.6 M311.3,172.5v1.6 M314.5,272.1v-1.6 M314.5,172.5v1.6 M317.7,272.1v-1.6 M317.7,172.5v1.6 M320.9,272.1v-1.6 M320.9,172.5v1.6 M324.1,272.1v-1.6 M324.1,172.5v1.6 M327.4,272.1v-1.6 M327.4,172.5v1.6 M330.6,272.1v-3 M330.6,172.5v3 M333.8,272.1v-1.6 M333.8,172.5v1.6 M337.0,272.1v-1.6 M337.0,172.5v1.6 M340.2,272.1v-1.6 M340.2,172.5v1.6 M343.4,272.1v-1.6 M343.4,172.5v1.6 M346.7,272.1v-1.6 M346.7,172.5v1.6 M349.9,272.1v-1.6 M349.9,172.5v1.6 M353.1,272.1v-1.6 M353.1,172.5v1.6 M356.3,272.1v-1.6 M356.3,172.5v1.6 M359.5,272.1v-1.6 M359.5,172.5v1.6 M362.8,272.1v-3 M362.8,172.5v3 M366.0,272.1v-1.6 M366.0,172.5v1.6 M369.2,272.1v-1.6 M369.2,172.5v1.6 M372.4,272.1v-1.6 M372.4,172.5v1.6 M375.6,272.1v-1.6 M375.6,172.5v1.6 M378.8,272.1v-1.6 M378.8,172.5v1.6 M382.1,272.1v-1.6 M382.1,172.5v1.6 M385.3,272.1v-1.6 M385.3,172.5v1.6 M388.5,272.1v-1.6 M388.5,172.5v1.6 M391.7,272.1v-1.6 M391.7,172.5v1.6 M394.9,272.1v-3 M394.9,172.5v3 M398.2,272.1v-1.6 M398.2,172.5v1.6 M401.4,272.1v-1.6 M401.4,172.5v1.6 M404.6,272.1v-1.6 M404.6,172.5v1.6 M407.8,272.1v-1.6 M407.8,172.5v1.6 M411.0,272.1v-1.6 M411.0,172.5v1.6 M414.2,272.1v-1.6 M414.2,172.5v1.6 M417.5,272.1v-1.6 M417.5,172.5v1.6 M420.7,272.1v-1.6 M420.7,172.5v1.6 M423.9,272.1v-1.6 M423.9,172.5v1.6 M427.1,272.1v-3 M427.1,172.5v3 M430.3,272.1v-1.6 M430.3,172.5v1.6 M433.5,272.1v-1.6 M433.5,172.5v1.6 M436.8,272.1v-1.6 M436.8,172.5v1.6 M440.0,272.1v-1.6 M440.0,172.5v1.6 M443.2,272.1v-1.6 M443.2,172.5v1.6 M298.4,272.1h3 M443.2,272.1h-3 M298.4,269.3h1.6 M443.2,269.3h-1.6 M298.4,266.4h1.6 M443.2,266.4h-1.6 M298.4,263.6h1.6 M443.2,263.6h-1.6 M298.4,260.7h1.6 M443.2,260.7h-1.6 M298.4,257.9h3 M443.2,257.9h-3 M298.4,255.0h1.6 M443.2,255.0h-1.6 M298.4,252.2h1.6 M443.2,252.2h-1.6 M298.4,249.3h1.6 M443.2,249.3h-1.6 M298.4,246.5h1.6 M443.2,246.5h-1.6 M298.4,243.6h3 M443.2,243.6h-3 M298.4,240.8h1.6 M443.2,240.8h-1.6 M298.4,238.0h1.6 M443.2,238.0h-1.6 M298.4,235.1h1.6 M443.2,235.1h-1.6 M298.4,232.3h1.6 M443.2,232.3h-1.6 M298.4,229.4h3 M443.2,229.4h-3 M298.4,226.6h1.6 M443.2,226.6h-1.6 M298.4,223.7h1.6 M443.2,223.7h-1.6 M298.4,220.9h1.6 M443.2,220.9h-1.6 M298.4,218.0h1.6 M443.2,218.0h-1.6 M298.4,215.2h3 M443.2,215.2h-3 M298.4,212.3h1.6 M443.2,212.3h-1.6 M298.4,209.5h1.6 M443.2,209.5h-1.6 M298.4,206.6h1.6 M443.2,206.6h-1.6 M298.4,203.8h1.6 M443.2,203.8h-1.6 M298.4,201.0h3 M443.2,201.0h-3 M298.4,198.1h1.6 M443.2,198.1h-1.6 M298.4,195.3h1.6 M443.2,195.3h-1.6 M298.4,192.4h1.6 M443.2,192.4h-1.6 M298.4,189.6h1.6 M443.2,189.6h-1.6 M298.4,186.7h3 M443.2,186.7h-3 M298.4,183.9h1.6 M443.2,183.9h-1.6 M298.4,181.0h1.6 M443.2,181.0h-1.6 M298.4,178.2h1.6 M443.2,178.2h-1.6 M298.4,175.3h1.6 M443.2,175.3h-1.6 M298.4,172.5h3 M443.2,172.5h-3" stroke="#222" stroke-width="0.6" fill="none"/>
<rect x="298.4" y="172.5" width="144.8" height="99.6" fill="none" stroke="#1a1a1a" stroke-width="0.9"/>
<text x="296.0" y="272.4" font-size="7.6" font-weight="normal" stroke="#111" stroke-width="0.15" text-anchor="end" fill="#111" textLength="12.3" lengthAdjust="spacingAndGlyphs">0.0</text>
<text x="296.0" y="260.7" font-size="7.6" font-weight="normal" stroke="#111" stroke-width="0.15" text-anchor="end" fill="#111" textLength="12.3" lengthAdjust="spacingAndGlyphs">0.5</text>
<text x="296.0" y="246.4" font-size="7.6" font-weight="normal" stroke="#111" stroke-width="0.15" text-anchor="end" fill="#111" textLength="12.3" lengthAdjust="spacingAndGlyphs">1.0</text>
<text x="296.0" y="232.2" font-size="7.6" font-weight="normal" stroke="#111" stroke-width="0.15" text-anchor="end" fill="#111" textLength="12.3" lengthAdjust="spacingAndGlyphs">1.5</text>
<text x="296.0" y="218.0" font-size="7.6" font-weight="normal" stroke="#111" stroke-width="0.15" text-anchor="end" fill="#111" textLength="12.3" lengthAdjust="spacingAndGlyphs">2.0</text>
<text x="296.0" y="203.8" font-size="7.6" font-weight="normal" stroke="#111" stroke-width="0.15" text-anchor="end" fill="#111" textLength="12.3" lengthAdjust="spacingAndGlyphs">2.5</text>
<text x="296.0" y="189.5" font-size="7.6" font-weight="normal" stroke="#111" stroke-width="0.15" text-anchor="end" fill="#111" textLength="12.3" lengthAdjust="spacingAndGlyphs">3.0</text>
<text x="296.0" y="178.1" font-size="7.6" font-weight="normal" stroke="#111" stroke-width="0.15" text-anchor="end" fill="#111" textLength="12.3" lengthAdjust="spacingAndGlyphs">3.5</text>
<text x="298.4" y="283.3" font-size="7.6" font-weight="normal" stroke="#111" stroke-width="0.15" text-anchor="middle" fill="#111" textLength="12.3" lengthAdjust="spacingAndGlyphs">0.6</text>
<text x="330.6" y="283.3" font-size="7.6" font-weight="normal" stroke="#111" stroke-width="0.15" text-anchor="middle" fill="#111" textLength="12.3" lengthAdjust="spacingAndGlyphs">0.7</text>
<text x="362.8" y="283.3" font-size="7.6" font-weight="normal" stroke="#111" stroke-width="0.15" text-anchor="middle" fill="#111" textLength="12.3" lengthAdjust="spacingAndGlyphs">0.8</text>
<text x="394.9" y="283.3" font-size="7.6" font-weight="normal" stroke="#111" stroke-width="0.15" text-anchor="middle" fill="#111" textLength="12.3" lengthAdjust="spacingAndGlyphs">0.9</text>
<text x="427.1" y="283.3" font-size="7.6" font-weight="normal" stroke="#111" stroke-width="0.15" text-anchor="middle" fill="#111" textLength="12.3" lengthAdjust="spacingAndGlyphs">1.0</text>
<text x="370.8" y="292.6" font-size="9" font-weight="normal" font-style="italic" text-anchor="middle" fill="#111" stroke="#111" stroke-width="0.25">ψ</text>
<line x1="427.1" y1="172.5" x2="427.1" y2="272.1" stroke="#222" stroke-width="1" stroke-dasharray="2.5,4.7"/>
<g clip-path="url(#cd)">
<circle cx="305.7" cy="176.5" r="1.5" fill="#0a0aff" stroke="#111" stroke-width="0.55"/>
<circle cx="315.3" cy="174.0" r="1.5" fill="#0a0aff" stroke="#111" stroke-width="0.55"/>
<circle cx="306.1" cy="184.2" r="1.5" fill="#0a0aff" stroke="#111" stroke-width="0.55"/>
<circle cx="324.4" cy="187.3" r="1.5" fill="#0a0aff" stroke="#111" stroke-width="0.55"/>
<circle cx="334.6" cy="187.9" r="1.5" fill="#0a0aff" stroke="#111" stroke-width="0.55"/>
<circle cx="315.9" cy="194.4" r="1.5" fill="#0a0aff" stroke="#111" stroke-width="0.55"/>
<circle cx="343.1" cy="198.0" r="1.5" fill="#0a0aff" stroke="#111" stroke-width="0.55"/>
<circle cx="352.5" cy="199.5" r="1.5" fill="#0a0aff" stroke="#111" stroke-width="0.55"/>
<circle cx="324.4" cy="202.5" r="1.5" fill="#0a0aff" stroke="#111" stroke-width="0.55"/>
<circle cx="333.6" cy="201.5" r="1.5" fill="#0a0aff" stroke="#111" stroke-width="0.55"/>
<circle cx="352.5" cy="209.6" r="1.5" fill="#0a0aff" stroke="#111" stroke-width="0.55"/>
<circle cx="353.3" cy="211.0" r="1.5" fill="#0a0aff" stroke="#111" stroke-width="0.55"/>
<circle cx="379.4" cy="195.2" r="1.5" fill="#0a0aff" stroke="#111" stroke-width="0.55"/>
<circle cx="362.7" cy="205.3" r="1.5" fill="#0a0aff" stroke="#111" stroke-width="0.55"/>
<circle cx="371.7" cy="209.8" r="1.5" fill="#0a0aff" stroke="#111" stroke-width="0.55"/>
<circle cx="384.5" cy="206.4" r="1.5" fill="#0a0aff" stroke="#111" stroke-width="0.55"/>
<circle cx="385.5" cy="211.4" r="1.5" fill="#0a0aff" stroke="#111" stroke-width="0.55"/>
<circle cx="388.6" cy="212.5" r="1.5" fill="#0a0aff" stroke="#111" stroke-width="0.55"/>
<circle cx="394.7" cy="212.5" r="1.5" fill="#0a0aff" stroke="#111" stroke-width="0.55"/>
<circle cx="398.7" cy="216.5" r="1.5" fill="#0a0aff" stroke="#111" stroke-width="0.55"/>
<circle cx="403.8" cy="215.5" r="1.5" fill="#0a0aff" stroke="#111" stroke-width="0.55"/>
<circle cx="408.3" cy="218.6" r="1.5" fill="#0a0aff" stroke="#111" stroke-width="0.55"/>
<circle cx="384.5" cy="220.0" r="1.5" fill="#0a0aff" stroke="#111" stroke-width="0.55"/>
<circle cx="389.6" cy="222.6" r="1.5" fill="#0a0aff" stroke="#111" stroke-width="0.55"/>
<circle cx="393.6" cy="223.2" r="1.5" fill="#0a0aff" stroke="#111" stroke-width="0.55"/>
<circle cx="380.4" cy="226.7" r="1.5" fill="#0a0aff" stroke="#111" stroke-width="0.55"/>
<circle cx="398.7" cy="224.7" r="1.5" fill="#0a0aff" stroke="#111" stroke-width="0.55"/>
<circle cx="403.8" cy="227.7" r="1.5" fill="#0a0aff" stroke="#111" stroke-width="0.55"/>
<circle cx="408.3" cy="225.7" r="1.5" fill="#0a0aff" stroke="#111" stroke-width="0.55"/>
<circle cx="414.0" cy="228.7" r="1.5" fill="#0a0aff" stroke="#111" stroke-width="0.55"/>
<circle cx="412.9" cy="225.2" r="1.5" fill="#0a0aff" stroke="#111" stroke-width="0.55"/>
<circle cx="409.2" cy="235.3" r="1.5" fill="#0a0aff" stroke="#111" stroke-width="0.55"/>
<circle cx="413.7" cy="239.0" r="1.5" fill="#0a0aff" stroke="#111" stroke-width="0.55"/>
<circle cx="417.4" cy="243.1" r="1.5" fill="#0a0aff" stroke="#111" stroke-width="0.55"/>
<circle cx="417.4" cy="251.6" r="1.5" fill="#0a0aff" stroke="#111" stroke-width="0.55"/>
<circle cx="423.5" cy="256.7" r="1.5" fill="#0a0aff" stroke="#111" stroke-width="0.55"/>
<circle cx="422.5" cy="265.8" r="1.5" fill="#0a0aff" stroke="#111" stroke-width="0.55"/>
<circle cx="437.7" cy="269.9" r="1.5" fill="#0a0aff" stroke="#111" stroke-width="0.55"/>
<circle cx="441.8" cy="237.4" r="1.5" fill="#0a0aff" stroke="#111" stroke-width="0.55"/>
<path d="M298.4,183.2 C314.5,189.5 376.4,213.8 395.0,221.1 C413.6,228.4 407.0,225.6 410.0,227.0 C413.0,228.4 412.0,228.1 413.0,229.5 C414.0,230.9 414.7,231.9 416.0,235.3 C417.3,238.7 419.3,245.1 421.0,250.0 C422.7,254.9 424.5,260.9 426.0,264.5 C427.5,268.1 428.5,270.3 430.0,271.6 C431.5,272.9 432.8,272.0 435.0,272.1 C437.2,272.2 441.8,272.1 443.2,272.1" fill="none" stroke="#0a0aff" stroke-width="1.05" />
<circle cx="305.7" cy="191.3" r="1.5" fill="#ff00ff" stroke="#111" stroke-width="0.55"/>
<circle cx="305.7" cy="202.5" r="1.5" fill="#ff00ff" stroke="#111" stroke-width="0.55"/>
<circle cx="314.7" cy="195.4" r="1.5" fill="#ff00ff" stroke="#111" stroke-width="0.55"/>
<circle cx="315.3" cy="198.4" r="1.5" fill="#ff00ff" stroke="#111" stroke-width="0.55"/>
<circle cx="315.3" cy="204.1" r="1.5" fill="#ff00ff" stroke="#111" stroke-width="0.55"/>
<circle cx="324.0" cy="192.3" r="1.5" fill="#ff00ff" stroke="#111" stroke-width="0.55"/>
<circle cx="324.0" cy="197.4" r="1.5" fill="#ff00ff" stroke="#111" stroke-width="0.55"/>
<circle cx="324.4" cy="203.5" r="1.5" fill="#ff00ff" stroke="#111" stroke-width="0.55"/>
<circle cx="333.6" cy="205.6" r="1.5" fill="#ff00ff" stroke="#111" stroke-width="0.55"/>
<circle cx="334.2" cy="209.6" r="1.5" fill="#ff00ff" stroke="#111" stroke-width="0.55"/>
<circle cx="343.1" cy="202.9" r="1.5" fill="#ff00ff" stroke="#111" stroke-width="0.55"/>
<circle cx="343.1" cy="212.7" r="1.5" fill="#ff00ff" stroke="#111" stroke-width="0.55"/>
<circle cx="352.5" cy="215.7" r="1.5" fill="#ff00ff" stroke="#111" stroke-width="0.55"/>
<circle cx="352.5" cy="225.9" r="1.5" fill="#ff00ff" stroke="#111" stroke-width="0.55"/>
<circle cx="362.7" cy="212.5" r="1.5" fill="#ff00ff" stroke="#111" stroke-width="0.55"/>
<circle cx="362.7" cy="219.6" r="1.5" fill="#ff00ff" stroke="#111" stroke-width="0.55"/>
<circle cx="362.7" cy="226.7" r="1.5" fill="#ff00ff" stroke="#111" stroke-width="0.55"/>
<circle cx="371.7" cy="213.5" r="1.5" fill="#ff00ff" stroke="#111" stroke-width="0.55"/>
<circle cx="372.3" cy="217.5" r="1.5" fill="#ff00ff" stroke="#111" stroke-width="0.55"/>
<circle cx="372.3" cy="221.2" r="1.5" fill="#ff00ff" stroke="#111" stroke-width="0.55"/>
<circle cx="383.5" cy="216.5" r="1.5" fill="#ff00ff" stroke="#111" stroke-width="0.55"/>
<circle cx="379.0" cy="224.7" r="1.5" fill="#ff00ff" stroke="#111" stroke-width="0.55"/>
<circle cx="389.6" cy="226.7" r="1.5" fill="#ff00ff" stroke="#111" stroke-width="0.55"/>
<circle cx="393.6" cy="227.7" r="1.5" fill="#ff00ff" stroke="#111" stroke-width="0.55"/>
<circle cx="398.7" cy="227.7" r="1.5" fill="#ff00ff" stroke="#111" stroke-width="0.55"/>
<circle cx="402.8" cy="228.7" r="1.5" fill="#ff00ff" stroke="#111" stroke-width="0.55"/>
<circle cx="407.9" cy="225.7" r="1.5" fill="#ff00ff" stroke="#111" stroke-width="0.55"/>
<circle cx="412.4" cy="228.7" r="1.5" fill="#ff00ff" stroke="#111" stroke-width="0.55"/>
<circle cx="379.8" cy="234.2" r="1.5" fill="#ff00ff" stroke="#111" stroke-width="0.55"/>
<circle cx="384.5" cy="233.4" r="1.5" fill="#ff00ff" stroke="#111" stroke-width="0.55"/>
<circle cx="393.6" cy="233.4" r="1.5" fill="#ff00ff" stroke="#111" stroke-width="0.55"/>
<circle cx="408.9" cy="236.9" r="1.5" fill="#ff00ff" stroke="#111" stroke-width="0.55"/>
<circle cx="413.0" cy="238.9" r="1.5" fill="#ff00ff" stroke="#111" stroke-width="0.55"/>
<circle cx="388.6" cy="240.3" r="1.5" fill="#ff00ff" stroke="#111" stroke-width="0.55"/>
<circle cx="408.9" cy="244.0" r="1.5" fill="#ff00ff" stroke="#111" stroke-width="0.55"/>
<circle cx="413.7" cy="228.8" r="1.5" fill="#ff00ff" stroke="#111" stroke-width="0.55"/>
<circle cx="408.8" cy="237.4" r="1.5" fill="#ff00ff" stroke="#111" stroke-width="0.55"/>
<circle cx="418.4" cy="235.3" r="1.5" fill="#ff00ff" stroke="#111" stroke-width="0.55"/>
<circle cx="408.8" cy="244.5" r="1.5" fill="#ff00ff" stroke="#111" stroke-width="0.55"/>
<circle cx="418.4" cy="247.5" r="1.5" fill="#ff00ff" stroke="#111" stroke-width="0.55"/>
<circle cx="419.4" cy="251.6" r="1.5" fill="#ff00ff" stroke="#111" stroke-width="0.55"/>
<circle cx="422.5" cy="258.7" r="1.5" fill="#ff00ff" stroke="#111" stroke-width="0.55"/>
<circle cx="423.5" cy="260.8" r="1.5" fill="#ff00ff" stroke="#111" stroke-width="0.55"/>
<circle cx="427.5" cy="263.8" r="1.5" fill="#ff00ff" stroke="#111" stroke-width="0.55"/>
<circle cx="432.6" cy="269.9" r="1.5" fill="#ff00ff" stroke="#111" stroke-width="0.55"/>
<circle cx="438.1" cy="224.2" r="1.5" fill="#ff00ff" stroke="#111" stroke-width="0.55"/>
<circle cx="428.6" cy="268.9" r="1.5" fill="#ff00ff" stroke="#111" stroke-width="0.55"/>
<path d="M298.4,194.1 C314.5,200.1 376.7,223.5 395.0,230.3 C413.3,237.1 405.3,233.6 408.3,235.0 C411.3,236.4 411.7,237.4 413.0,238.5 C414.3,239.6 414.7,238.8 416.0,241.4 C417.3,244.0 419.5,250.3 421.0,254.0 C422.5,257.7 423.5,260.6 425.0,263.5 C426.5,266.4 428.3,270.2 430.0,271.6 C431.7,273.0 432.8,272.0 435.0,272.1 C437.2,272.2 441.8,272.1 443.2,272.1" fill="none" stroke="#ff00ff" stroke-width="1.05" />
</g>
<text x="304.9" y="261.2" font-size="8.6" font-weight="normal" stroke="#ff00ff" stroke-width="0.45" fill="#ff00ff" textLength="69.7" lengthAdjust="spacingAndGlyphs">#98913 T 7.6-7.75s</text>
<text x="304.9" y="268.4" font-size="8.6" font-weight="normal" stroke="#0a0aff" stroke-width="0.45" fill="#0a0aff" textLength="70.3" lengthAdjust="spacingAndGlyphs">#97893 D 7.6-7.75s</text>
<text x="303.5" y="233.4" font-size="12.8" fill="#000" stroke="#000" stroke-width="0.25" textLength="11.6" lengthAdjust="spacingAndGlyphs">d)</text>
<text transform="translate(428.0,182.6) rotate(90)" font-size="6.8" font-weight="normal" fill="#111" stroke="#111" stroke-width="0.4" textLength="13" lengthAdjust="spacingAndGlyphs">lcfs</text>
<path d="M472.2,272.1v-3 M472.2,172.5v3 M475.4,272.1v-1.6 M475.4,172.5v1.6 M478.6,272.1v-1.6 M478.6,172.5v1.6 M481.8,272.1v-1.6 M481.8,172.5v1.6 M485.0,272.1v-1.6 M485.0,172.5v1.6 M488.2,272.1v-1.6 M488.2,172.5v1.6 M491.4,272.1v-1.6 M491.4,172.5v1.6 M494.6,272.1v-1.6 M494.6,172.5v1.6 M497.8,272.1v-1.6 M497.8,172.5v1.6 M501.0,272.1v-1.6 M501.0,172.5v1.6 M504.2,272.1v-3 M504.2,172.5v3 M507.4,272.1v-1.6 M507.4,172.5v1.6 M510.7,272.1v-1.6 M510.7,172.5v1.6 M513.9,272.1v-1.6 M513.9,172.5v1.6 M517.1,272.1v-1.6 M517.1,172.5v1.6 M520.3,272.1v-1.6 M520.3,172.5v1.6 M523.5,272.1v-1.6 M523.5,172.5v1.6 M526.7,272.1v-1.6 M526.7,172.5v1.6 M529.9,272.1v-1.6 M529.9,172.5v1.6 M533.1,272.1v-1.6 M533.1,172.5v1.6 M536.3,272.1v-3 M536.3,172.5v3 M539.5,272.1v-1.6 M539.5,172.5v1.6 M542.7,272.1v-1.6 M542.7,172.5v1.6 M545.9,272.1v-1.6 M545.9,172.5v1.6 M549.1,272.1v-1.6 M549.1,172.5v1.6 M552.3,272.1v-1.6 M552.3,172.5v1.6 M555.5,272.1v-1.6 M555.5,172.5v1.6 M558.7,272.1v-1.6 M558.7,172.5v1.6 M561.9,272.1v-1.6 M561.9,172.5v1.6 M565.1,272.1v-1.6 M565.1,172.5v1.6 M568.3,272.1v-3 M568.3,172.5v3 M571.5,272.1v-1.6 M571.5,172.5v1.6 M574.7,272.1v-1.6 M574.7,172.5v1.6 M577.9,272.1v-1.6 M577.9,172.5v1.6 M581.2,272.1v-1.6 M581.2,172.5v1.6 M584.4,272.1v-1.6 M584.4,172.5v1.6 M587.6,272.1v-1.6 M587.6,172.5v1.6 M590.8,272.1v-1.6 M590.8,172.5v1.6 M594.0,272.1v-1.6 M594.0,172.5v1.6 M597.2,272.1v-1.6 M597.2,172.5v1.6 M600.4,272.1v-3 M600.4,172.5v3 M603.6,272.1v-1.6 M603.6,172.5v1.6 M606.8,272.1v-1.6 M606.8,172.5v1.6 M610.0,272.1v-1.6 M610.0,172.5v1.6 M613.2,272.1v-1.6 M613.2,172.5v1.6 M616.4,272.1v-1.6 M616.4,172.5v1.6 M472.2,272.1h3 M616.4,272.1h-3 M472.2,269.3h1.6 M616.4,269.3h-1.6 M472.2,266.4h1.6 M616.4,266.4h-1.6 M472.2,263.6h1.6 M616.4,263.6h-1.6 M472.2,260.7h1.6 M616.4,260.7h-1.6 M472.2,257.9h3 M616.4,257.9h-3 M472.2,255.0h1.6 M616.4,255.0h-1.6 M472.2,252.2h1.6 M616.4,252.2h-1.6 M472.2,249.3h1.6 M616.4,249.3h-1.6 M472.2,246.5h1.6 M616.4,246.5h-1.6 M472.2,243.6h3 M616.4,243.6h-3 M472.2,240.8h1.6 M616.4,240.8h-1.6 M472.2,238.0h1.6 M616.4,238.0h-1.6 M472.2,235.1h1.6 M616.4,235.1h-1.6 M472.2,232.3h1.6 M616.4,232.3h-1.6 M472.2,229.4h3 M616.4,229.4h-3 M472.2,226.6h1.6 M616.4,226.6h-1.6 M472.2,223.7h1.6 M616.4,223.7h-1.6 M472.2,220.9h1.6 M616.4,220.9h-1.6 M472.2,218.0h1.6 M616.4,218.0h-1.6 M472.2,215.2h3 M616.4,215.2h-3 M472.2,212.3h1.6 M616.4,212.3h-1.6 M472.2,209.5h1.6 M616.4,209.5h-1.6 M472.2,206.6h1.6 M616.4,206.6h-1.6 M472.2,203.8h1.6 M616.4,203.8h-1.6 M472.2,201.0h3 M616.4,201.0h-3 M472.2,198.1h1.6 M616.4,198.1h-1.6 M472.2,195.3h1.6 M616.4,195.3h-1.6 M472.2,192.4h1.6 M616.4,192.4h-1.6 M472.2,189.6h1.6 M616.4,189.6h-1.6 M472.2,186.7h3 M616.4,186.7h-3 M472.2,183.9h1.6 M616.4,183.9h-1.6 M472.2,181.0h1.6 M616.4,181.0h-1.6 M472.2,178.2h1.6 M616.4,178.2h-1.6 M472.2,175.3h1.6 M616.4,175.3h-1.6 M472.2,172.5h3 M616.4,172.5h-3" stroke="#222" stroke-width="0.6" fill="none"/>
<rect x="472.2" y="172.5" width="144.2" height="99.6" fill="none" stroke="#1a1a1a" stroke-width="0.9"/>
<text x="469.8" y="272.4" font-size="7.6" font-weight="normal" stroke="#111" stroke-width="0.15" text-anchor="end" fill="#111" textLength="12.3" lengthAdjust="spacingAndGlyphs">0.0</text>
<text x="469.8" y="260.7" font-size="7.6" font-weight="normal" stroke="#111" stroke-width="0.15" text-anchor="end" fill="#111" textLength="12.3" lengthAdjust="spacingAndGlyphs">0.5</text>
<text x="469.8" y="246.4" font-size="7.6" font-weight="normal" stroke="#111" stroke-width="0.15" text-anchor="end" fill="#111" textLength="12.3" lengthAdjust="spacingAndGlyphs">1.0</text>
<text x="469.8" y="232.2" font-size="7.6" font-weight="normal" stroke="#111" stroke-width="0.15" text-anchor="end" fill="#111" textLength="12.3" lengthAdjust="spacingAndGlyphs">1.5</text>
<text x="469.8" y="218.0" font-size="7.6" font-weight="normal" stroke="#111" stroke-width="0.15" text-anchor="end" fill="#111" textLength="12.3" lengthAdjust="spacingAndGlyphs">2.0</text>
<text x="469.8" y="203.8" font-size="7.6" font-weight="normal" stroke="#111" stroke-width="0.15" text-anchor="end" fill="#111" textLength="12.3" lengthAdjust="spacingAndGlyphs">2.5</text>
<text x="469.8" y="189.5" font-size="7.6" font-weight="normal" stroke="#111" stroke-width="0.15" text-anchor="end" fill="#111" textLength="12.3" lengthAdjust="spacingAndGlyphs">3.0</text>
<text x="469.8" y="178.1" font-size="7.6" font-weight="normal" stroke="#111" stroke-width="0.15" text-anchor="end" fill="#111" textLength="12.3" lengthAdjust="spacingAndGlyphs">3.5</text>
<text x="472.2" y="283.3" font-size="7.6" font-weight="normal" stroke="#111" stroke-width="0.15" text-anchor="middle" fill="#111" textLength="12.3" lengthAdjust="spacingAndGlyphs">0.6</text>
<text x="504.2" y="283.3" font-size="7.6" font-weight="normal" stroke="#111" stroke-width="0.15" text-anchor="middle" fill="#111" textLength="12.3" lengthAdjust="spacingAndGlyphs">0.7</text>
<text x="536.3" y="283.3" font-size="7.6" font-weight="normal" stroke="#111" stroke-width="0.15" text-anchor="middle" fill="#111" textLength="12.3" lengthAdjust="spacingAndGlyphs">0.8</text>
<text x="568.3" y="283.3" font-size="7.6" font-weight="normal" stroke="#111" stroke-width="0.15" text-anchor="middle" fill="#111" textLength="12.3" lengthAdjust="spacingAndGlyphs">0.9</text>
<text x="600.4" y="283.3" font-size="7.6" font-weight="normal" stroke="#111" stroke-width="0.15" text-anchor="middle" fill="#111" textLength="12.3" lengthAdjust="spacingAndGlyphs">1.0</text>
<text x="544.3" y="292.6" font-size="9" font-weight="normal" font-style="italic" text-anchor="middle" fill="#111" stroke="#111" stroke-width="0.25">ψ</text>
<line x1="600.4" y1="172.5" x2="600.4" y2="272.1" stroke="#222" stroke-width="1" stroke-dasharray="2.5,4.7"/>
<g clip-path="url(#ce)">
<circle cx="475.7" cy="178.5" r="1.5" fill="#0a0aff" stroke="#111" stroke-width="0.55"/>
<circle cx="479.7" cy="174.4" r="1.5" fill="#0a0aff" stroke="#111" stroke-width="0.55"/>
<circle cx="485.2" cy="183.2" r="1.5" fill="#0a0aff" stroke="#111" stroke-width="0.55"/>
<circle cx="494.8" cy="183.8" r="1.5" fill="#0a0aff" stroke="#111" stroke-width="0.55"/>
<circle cx="476.1" cy="188.3" r="1.5" fill="#0a0aff" stroke="#111" stroke-width="0.55"/>
<circle cx="477.1" cy="195.4" r="1.5" fill="#0a0aff" stroke="#111" stroke-width="0.55"/>
<circle cx="485.8" cy="192.3" r="1.5" fill="#0a0aff" stroke="#111" stroke-width="0.55"/>
<circle cx="485.8" cy="197.4" r="1.5" fill="#0a0aff" stroke="#111" stroke-width="0.55"/>
<circle cx="489.9" cy="198.4" r="1.5" fill="#0a0aff" stroke="#111" stroke-width="0.55"/>
<circle cx="496.0" cy="195.4" r="1.5" fill="#0a0aff" stroke="#111" stroke-width="0.55"/>
<circle cx="497.4" cy="200.5" r="1.5" fill="#0a0aff" stroke="#111" stroke-width="0.55"/>
<circle cx="500.1" cy="196.4" r="1.5" fill="#0a0aff" stroke="#111" stroke-width="0.55"/>
<circle cx="504.9" cy="197.4" r="1.5" fill="#0a0aff" stroke="#111" stroke-width="0.55"/>
<circle cx="504.9" cy="202.1" r="1.5" fill="#0a0aff" stroke="#111" stroke-width="0.55"/>
<circle cx="509.0" cy="199.5" r="1.5" fill="#0a0aff" stroke="#111" stroke-width="0.55"/>
<circle cx="513.7" cy="202.5" r="1.5" fill="#0a0aff" stroke="#111" stroke-width="0.55"/>
<circle cx="515.1" cy="204.9" r="1.5" fill="#0a0aff" stroke="#111" stroke-width="0.55"/>
<circle cx="519.2" cy="203.5" r="1.5" fill="#0a0aff" stroke="#111" stroke-width="0.55"/>
<circle cx="525.3" cy="204.5" r="1.5" fill="#0a0aff" stroke="#111" stroke-width="0.55"/>
<circle cx="522.4" cy="206.6" r="1.5" fill="#0a0aff" stroke="#111" stroke-width="0.55"/>
<circle cx="529.4" cy="212.7" r="1.5" fill="#0a0aff" stroke="#111" stroke-width="0.55"/>
<circle cx="531.0" cy="214.7" r="1.5" fill="#0a0aff" stroke="#111" stroke-width="0.55"/>
<circle cx="535.1" cy="206.2" r="1.5" fill="#0a0aff" stroke="#111" stroke-width="0.55"/>
<circle cx="537.7" cy="212.3" r="1.5" fill="#0a0aff" stroke="#111" stroke-width="0.55"/>
<circle cx="539.8" cy="218.4" r="1.5" fill="#0a0aff" stroke="#111" stroke-width="0.55"/>
<circle cx="546.3" cy="211.3" r="1.5" fill="#0a0aff" stroke="#111" stroke-width="0.55"/>
<circle cx="546.7" cy="220.4" r="1.5" fill="#0a0aff" stroke="#111" stroke-width="0.55"/>
<circle cx="552.0" cy="213.3" r="1.5" fill="#0a0aff" stroke="#111" stroke-width="0.55"/>
<circle cx="554.0" cy="211.3" r="1.5" fill="#0a0aff" stroke="#111" stroke-width="0.55"/>
<circle cx="557.5" cy="216.4" r="1.5" fill="#0a0aff" stroke="#111" stroke-width="0.55"/>
<circle cx="558.5" cy="210.9" r="1.5" fill="#0a0aff" stroke="#111" stroke-width="0.55"/>
<circle cx="560.1" cy="219.4" r="1.5" fill="#0a0aff" stroke="#111" stroke-width="0.55"/>
<circle cx="566.2" cy="217.0" r="1.5" fill="#0a0aff" stroke="#111" stroke-width="0.55"/>
<circle cx="568.6" cy="210.3" r="1.5" fill="#0a0aff" stroke="#111" stroke-width="0.55"/>
<circle cx="569.7" cy="219.4" r="1.5" fill="#0a0aff" stroke="#111" stroke-width="0.55"/>
<circle cx="573.7" cy="219.0" r="1.5" fill="#0a0aff" stroke="#111" stroke-width="0.55"/>
<circle cx="577.8" cy="220.4" r="1.5" fill="#0a0aff" stroke="#111" stroke-width="0.55"/>
<circle cx="575.8" cy="225.5" r="1.5" fill="#0a0aff" stroke="#111" stroke-width="0.55"/>
<circle cx="580.4" cy="225.9" r="1.5" fill="#0a0aff" stroke="#111" stroke-width="0.55"/>
<circle cx="583.3" cy="229.6" r="1.5" fill="#0a0aff" stroke="#111" stroke-width="0.55"/>
<circle cx="585.3" cy="233.2" r="1.5" fill="#0a0aff" stroke="#111" stroke-width="0.55"/>
<circle cx="584.9" cy="238.7" r="1.5" fill="#0a0aff" stroke="#111" stroke-width="0.55"/>
<circle cx="588.0" cy="240.8" r="1.5" fill="#0a0aff" stroke="#111" stroke-width="0.55"/>
<circle cx="588.0" cy="243.8" r="1.5" fill="#0a0aff" stroke="#111" stroke-width="0.55"/>
<circle cx="577.0" cy="215.0" r="1.5" fill="#0a0aff" stroke="#111" stroke-width="0.55"/>
<circle cx="580.0" cy="220.0" r="1.5" fill="#0a0aff" stroke="#111" stroke-width="0.55"/>
<circle cx="590.0" cy="237.0" r="1.5" fill="#0a0aff" stroke="#111" stroke-width="0.55"/>
<circle cx="592.0" cy="247.0" r="1.5" fill="#0a0aff" stroke="#111" stroke-width="0.55"/>
<circle cx="594.0" cy="252.0" r="1.5" fill="#0a0aff" stroke="#111" stroke-width="0.55"/>
<circle cx="596.0" cy="258.0" r="1.5" fill="#0a0aff" stroke="#111" stroke-width="0.55"/>
<circle cx="599.0" cy="263.0" r="1.5" fill="#0a0aff" stroke="#111" stroke-width="0.55"/>
<circle cx="602.0" cy="267.0" r="1.5" fill="#0a0aff" stroke="#111" stroke-width="0.55"/>
<circle cx="606.0" cy="269.0" r="1.5" fill="#0a0aff" stroke="#111" stroke-width="0.55"/>
<circle cx="611.0" cy="270.0" r="1.5" fill="#0a0aff" stroke="#111" stroke-width="0.55"/>
<circle cx="584.0" cy="222.0" r="1.5" fill="#0a0aff" stroke="#111" stroke-width="0.55"/>
<circle cx="586.0" cy="228.0" r="1.5" fill="#0a0aff" stroke="#111" stroke-width="0.55"/>
<circle cx="588.0" cy="234.0" r="1.5" fill="#0a0aff" stroke="#111" stroke-width="0.55"/>
<circle cx="505.1" cy="197.7" r="1.5" fill="#0a0aff" stroke="#111" stroke-width="0.55"/>
<circle cx="507.6" cy="202.0" r="1.5" fill="#0a0aff" stroke="#111" stroke-width="0.55"/>
<circle cx="515.3" cy="202.8" r="1.5" fill="#0a0aff" stroke="#111" stroke-width="0.55"/>
<circle cx="519.5" cy="201.1" r="1.5" fill="#0a0aff" stroke="#111" stroke-width="0.55"/>
<circle cx="525.4" cy="204.5" r="1.5" fill="#0a0aff" stroke="#111" stroke-width="0.55"/>
<circle cx="528.0" cy="206.2" r="1.5" fill="#0a0aff" stroke="#111" stroke-width="0.55"/>
<circle cx="535.6" cy="206.2" r="1.5" fill="#0a0aff" stroke="#111" stroke-width="0.55"/>
<circle cx="534.7" cy="213.0" r="1.5" fill="#0a0aff" stroke="#111" stroke-width="0.55"/>
<circle cx="540.7" cy="218.9" r="1.5" fill="#0a0aff" stroke="#111" stroke-width="0.55"/>
<circle cx="546.6" cy="212.1" r="1.5" fill="#0a0aff" stroke="#111" stroke-width="0.55"/>
<circle cx="548.3" cy="214.7" r="1.5" fill="#0a0aff" stroke="#111" stroke-width="0.55"/>
<circle cx="546.6" cy="220.6" r="1.5" fill="#0a0aff" stroke="#111" stroke-width="0.55"/>
<circle cx="550.8" cy="217.2" r="1.5" fill="#0a0aff" stroke="#111" stroke-width="0.55"/>
<circle cx="554.2" cy="213.0" r="1.5" fill="#0a0aff" stroke="#111" stroke-width="0.55"/>
<circle cx="558.5" cy="210.4" r="1.5" fill="#0a0aff" stroke="#111" stroke-width="0.55"/>
<circle cx="557.6" cy="220.6" r="1.5" fill="#0a0aff" stroke="#111" stroke-width="0.55"/>
<circle cx="530.5" cy="216.4" r="1.5" fill="#0a0aff" stroke="#111" stroke-width="0.55"/>
<circle cx="480.0" cy="190.0" r="1.5" fill="#0a0aff" stroke="#111" stroke-width="0.55"/>
<circle cx="484.0" cy="189.0" r="1.5" fill="#0a0aff" stroke="#111" stroke-width="0.55"/>
<circle cx="490.0" cy="191.0" r="1.5" fill="#0a0aff" stroke="#111" stroke-width="0.55"/>
<circle cx="476.0" cy="184.0" r="1.5" fill="#0a0aff" stroke="#111" stroke-width="0.55"/>
<circle cx="482.0" cy="193.0" r="1.5" fill="#0a0aff" stroke="#111" stroke-width="0.55"/>
<circle cx="487.0" cy="194.0" r="1.5" fill="#0a0aff" stroke="#111" stroke-width="0.55"/>
<circle cx="591.0" cy="243.0" r="1.5" fill="#0a0aff" stroke="#111" stroke-width="0.55"/>
<circle cx="593.0" cy="249.0" r="1.5" fill="#0a0aff" stroke="#111" stroke-width="0.55"/>
<circle cx="597.0" cy="259.0" r="1.5" fill="#0a0aff" stroke="#111" stroke-width="0.55"/>
<circle cx="603.0" cy="268.0" r="1.5" fill="#0a0aff" stroke="#111" stroke-width="0.55"/>
<circle cx="566.0" cy="226.0" r="1.5" fill="#0a0aff" stroke="#111" stroke-width="0.55"/>
<circle cx="572.0" cy="229.0" r="1.5" fill="#0a0aff" stroke="#111" stroke-width="0.55"/>
<circle cx="578.0" cy="231.0" r="1.5" fill="#0a0aff" stroke="#111" stroke-width="0.55"/>
<circle cx="584.0" cy="234.0" r="1.5" fill="#0a0aff" stroke="#111" stroke-width="0.55"/>
<circle cx="588.0" cy="237.0" r="1.5" fill="#0a0aff" stroke="#111" stroke-width="0.55"/>
<path d="M472.2,185.6 C482.2,189.6 518.2,204.2 532.0,209.8 C545.8,215.4 547.8,216.1 555.0,219.0 C562.2,221.9 570.0,224.7 575.0,227.0 C580.0,229.3 582.5,231.2 585.0,233.0 C587.5,234.8 588.7,235.6 590.0,237.5 C591.3,239.4 592.0,241.6 593.0,244.5 C594.0,247.4 595.0,251.8 596.0,255.0 C597.0,258.2 598.0,261.7 599.0,264.0 C600.0,266.3 600.8,267.8 602.0,269.0 C603.2,270.2 603.5,270.7 606.0,271.2 C608.5,271.7 615.2,271.9 617.0,272.0" fill="none" stroke="#0a0aff" stroke-width="1.05" />
<circle cx="489.3" cy="173.6" r="1.5" fill="#ff00ff" stroke="#111" stroke-width="0.55"/>
<circle cx="472.5" cy="179.1" r="1.5" fill="#ff00ff" stroke="#111" stroke-width="0.55"/>
<circle cx="480.5" cy="187.3" r="1.5" fill="#ff00ff" stroke="#111" stroke-width="0.55"/>
<circle cx="479.1" cy="197.4" r="1.5" fill="#ff00ff" stroke="#111" stroke-width="0.55"/>
<circle cx="479.7" cy="199.5" r="1.5" fill="#ff00ff" stroke="#111" stroke-width="0.55"/>
<circle cx="489.9" cy="194.4" r="1.5" fill="#ff00ff" stroke="#111" stroke-width="0.55"/>
<circle cx="491.3" cy="196.0" r="1.5" fill="#ff00ff" stroke="#111" stroke-width="0.55"/>
<circle cx="498.0" cy="197.4" r="1.5" fill="#ff00ff" stroke="#111" stroke-width="0.55"/>
<circle cx="509.6" cy="198.4" r="1.5" fill="#ff00ff" stroke="#111" stroke-width="0.55"/>
<circle cx="498.4" cy="205.6" r="1.5" fill="#ff00ff" stroke="#111" stroke-width="0.55"/>
<circle cx="509.0" cy="206.6" r="1.5" fill="#ff00ff" stroke="#111" stroke-width="0.55"/>
<circle cx="515.1" cy="202.9" r="1.5" fill="#ff00ff" stroke="#111" stroke-width="0.55"/>
<circle cx="520.8" cy="204.5" r="1.5" fill="#ff00ff" stroke="#111" stroke-width="0.55"/>
<circle cx="519.8" cy="212.7" r="1.5" fill="#ff00ff" stroke="#111" stroke-width="0.55"/>
<circle cx="531.0" cy="204.5" r="1.5" fill="#ff00ff" stroke="#111" stroke-width="0.55"/>
<circle cx="529.4" cy="217.8" r="1.5" fill="#ff00ff" stroke="#111" stroke-width="0.55"/>
<circle cx="530.6" cy="219.2" r="1.5" fill="#ff00ff" stroke="#111" stroke-width="0.55"/>
<circle cx="494.8" cy="200.5" r="1.5" fill="#ff00ff" stroke="#111" stroke-width="0.55"/>
<circle cx="532.4" cy="204.2" r="1.5" fill="#ff00ff" stroke="#111" stroke-width="0.55"/>
<circle cx="531.0" cy="214.3" r="1.5" fill="#ff00ff" stroke="#111" stroke-width="0.55"/>
<circle cx="531.0" cy="219.4" r="1.5" fill="#ff00ff" stroke="#111" stroke-width="0.55"/>
<circle cx="542.6" cy="213.7" r="1.5" fill="#ff00ff" stroke="#111" stroke-width="0.55"/>
<circle cx="547.9" cy="212.3" r="1.5" fill="#ff00ff" stroke="#111" stroke-width="0.55"/>
<circle cx="549.3" cy="215.3" r="1.5" fill="#ff00ff" stroke="#111" stroke-width="0.55"/>
<circle cx="552.4" cy="220.4" r="1.5" fill="#ff00ff" stroke="#111" stroke-width="0.55"/>
<circle cx="554.4" cy="225.5" r="1.5" fill="#ff00ff" stroke="#111" stroke-width="0.55"/>
<circle cx="556.0" cy="230.6" r="1.5" fill="#ff00ff" stroke="#111" stroke-width="0.55"/>
<circle cx="559.5" cy="214.3" r="1.5" fill="#ff00ff" stroke="#111" stroke-width="0.55"/>
<circle cx="560.5" cy="219.4" r="1.5" fill="#ff00ff" stroke="#111" stroke-width="0.55"/>
<circle cx="564.2" cy="223.5" r="1.5" fill="#ff00ff" stroke="#111" stroke-width="0.55"/>
<circle cx="566.6" cy="220.4" r="1.5" fill="#ff00ff" stroke="#111" stroke-width="0.55"/>
<circle cx="571.7" cy="212.3" r="1.5" fill="#ff00ff" stroke="#111" stroke-width="0.55"/>
<circle cx="570.7" cy="223.1" r="1.5" fill="#ff00ff" stroke="#111" stroke-width="0.55"/>
<circle cx="574.7" cy="224.5" r="1.5" fill="#ff00ff" stroke="#111" stroke-width="0.55"/>
<circle cx="573.7" cy="231.6" r="1.5" fill="#ff00ff" stroke="#111" stroke-width="0.55"/>
<circle cx="578.8" cy="227.5" r="1.5" fill="#ff00ff" stroke="#111" stroke-width="0.55"/>
<circle cx="581.3" cy="243.4" r="1.5" fill="#ff00ff" stroke="#111" stroke-width="0.55"/>
<circle cx="582.5" cy="242.2" r="1.5" fill="#ff00ff" stroke="#111" stroke-width="0.55"/>
<circle cx="565.0" cy="230.0" r="1.5" fill="#ff00ff" stroke="#111" stroke-width="0.55"/>
<circle cx="578.0" cy="228.0" r="1.5" fill="#ff00ff" stroke="#111" stroke-width="0.55"/>
<circle cx="593.0" cy="250.0" r="1.5" fill="#ff00ff" stroke="#111" stroke-width="0.55"/>
<circle cx="595.0" cy="255.0" r="1.5" fill="#ff00ff" stroke="#111" stroke-width="0.55"/>
<circle cx="597.0" cy="262.0" r="1.5" fill="#ff00ff" stroke="#111" stroke-width="0.55"/>
<circle cx="600.0" cy="266.0" r="1.5" fill="#ff00ff" stroke="#111" stroke-width="0.55"/>
<circle cx="603.0" cy="269.0" r="1.5" fill="#ff00ff" stroke="#111" stroke-width="0.55"/>
<circle cx="608.0" cy="270.0" r="1.5" fill="#ff00ff" stroke="#111" stroke-width="0.55"/>
<circle cx="586.0" cy="233.0" r="1.5" fill="#ff00ff" stroke="#111" stroke-width="0.55"/>
<circle cx="500.0" cy="198.6" r="1.5" fill="#ff00ff" stroke="#111" stroke-width="0.55"/>
<circle cx="510.2" cy="198.2" r="1.5" fill="#ff00ff" stroke="#111" stroke-width="0.55"/>
<circle cx="509.3" cy="206.2" r="1.5" fill="#ff00ff" stroke="#111" stroke-width="0.55"/>
<circle cx="521.2" cy="203.6" r="1.5" fill="#ff00ff" stroke="#111" stroke-width="0.55"/>
<circle cx="520.3" cy="212.1" r="1.5" fill="#ff00ff" stroke="#111" stroke-width="0.55"/>
<circle cx="532.2" cy="204.5" r="1.5" fill="#ff00ff" stroke="#111" stroke-width="0.55"/>
<circle cx="530.5" cy="213.8" r="1.5" fill="#ff00ff" stroke="#111" stroke-width="0.55"/>
<circle cx="530.5" cy="218.9" r="1.5" fill="#ff00ff" stroke="#111" stroke-width="0.55"/>
<circle cx="542.4" cy="213.8" r="1.5" fill="#ff00ff" stroke="#111" stroke-width="0.55"/>
<circle cx="541.5" cy="216.4" r="1.5" fill="#ff00ff" stroke="#111" stroke-width="0.55"/>
<circle cx="549.2" cy="212.1" r="1.5" fill="#ff00ff" stroke="#111" stroke-width="0.55"/>
<circle cx="554.2" cy="215.5" r="1.5" fill="#ff00ff" stroke="#111" stroke-width="0.55"/>
<circle cx="554.2" cy="226.5" r="1.5" fill="#ff00ff" stroke="#111" stroke-width="0.55"/>
<circle cx="555.9" cy="229.9" r="1.5" fill="#ff00ff" stroke="#111" stroke-width="0.55"/>
<circle cx="558.5" cy="225.7" r="1.5" fill="#ff00ff" stroke="#111" stroke-width="0.55"/>
<circle cx="477.0" cy="186.0" r="1.5" fill="#ff00ff" stroke="#111" stroke-width="0.55"/>
<circle cx="483.0" cy="187.0" r="1.5" fill="#ff00ff" stroke="#111" stroke-width="0.55"/>
<circle cx="486.0" cy="190.0" r="1.5" fill="#ff00ff" stroke="#111" stroke-width="0.55"/>
<circle cx="493.0" cy="192.0" r="1.5" fill="#ff00ff" stroke="#111" stroke-width="0.55"/>
<circle cx="496.0" cy="193.0" r="1.5" fill="#ff00ff" stroke="#111" stroke-width="0.55"/>
<circle cx="474.0" cy="181.0" r="1.5" fill="#ff00ff" stroke="#111" stroke-width="0.55"/>
<circle cx="592.0" cy="246.0" r="1.5" fill="#ff00ff" stroke="#111" stroke-width="0.55"/>
<circle cx="594.0" cy="252.0" r="1.5" fill="#ff00ff" stroke="#111" stroke-width="0.55"/>
<circle cx="598.0" cy="262.0" r="1.5" fill="#ff00ff" stroke="#111" stroke-width="0.55"/>
<circle cx="601.0" cy="267.0" r="1.5" fill="#ff00ff" stroke="#111" stroke-width="0.55"/>
<circle cx="569.0" cy="228.0" r="1.5" fill="#ff00ff" stroke="#111" stroke-width="0.55"/>
<circle cx="575.0" cy="230.0" r="1.5" fill="#ff00ff" stroke="#111" stroke-width="0.55"/>
<circle cx="581.0" cy="233.0" r="1.5" fill="#ff00ff" stroke="#111" stroke-width="0.55"/>
<circle cx="586.0" cy="236.0" r="1.5" fill="#ff00ff" stroke="#111" stroke-width="0.55"/>
<path d="M472.2,186.2 C482.2,190.3 518.2,205.0 532.0,210.6 C545.8,216.2 547.8,217.1 555.0,220.0 C562.2,222.9 570.0,225.7 575.0,228.0 C580.0,230.3 582.5,232.2 585.0,234.0 C587.5,235.8 588.7,236.7 590.0,238.5 C591.3,240.3 592.0,242.2 593.0,245.0 C594.0,247.8 595.0,252.2 596.0,255.5 C597.0,258.8 598.0,262.2 599.0,264.5 C600.0,266.8 600.8,268.1 602.0,269.2 C603.2,270.3 603.5,270.8 606.0,271.3 C608.5,271.8 615.2,271.9 617.0,272.0" fill="none" stroke="#ff00ff" stroke-width="1.05" />
</g>
<text x="477.1" y="258.5" font-size="8.6" font-weight="normal" stroke="#ff00ff" stroke-width="0.45" fill="#ff00ff" textLength="58.1" lengthAdjust="spacingAndGlyphs">#98913 T 7.8-8s</text>
<text x="477.1" y="266.9" font-size="8.6" font-weight="normal" stroke="#0a0aff" stroke-width="0.45" fill="#0a0aff" textLength="59" lengthAdjust="spacingAndGlyphs">#97893 D 7.8-8s</text>
<text x="587.4" y="188.6" font-size="12.8" fill="#000" stroke="#000" stroke-width="0.25" textLength="11.6" lengthAdjust="spacingAndGlyphs">e)</text>
<text transform="translate(602.3,182.6) rotate(90)" font-size="6.8" font-weight="normal" fill="#111" stroke="#111" stroke-width="0.4" textLength="13" lengthAdjust="spacingAndGlyphs">lcfs</text>
<text transform="translate(276.8,224.0) rotate(-90)" font-size="8.3" text-anchor="middle" fill="#111" stroke="#111" stroke-width="0.1">T<tspan font-size="5.2" dy="1.6">e</tspan><tspan dy="-1.5"> (keV)</tspan></text>
<text transform="translate(450.5,224.0) rotate(-90)" font-size="8.3" text-anchor="middle" fill="#111" stroke="#111" stroke-width="0.1">T<tspan font-size="5.2" dy="1.6">e</tspan><tspan dy="-1.5"> (keV)</tspan></text>
</svg></body></html>
